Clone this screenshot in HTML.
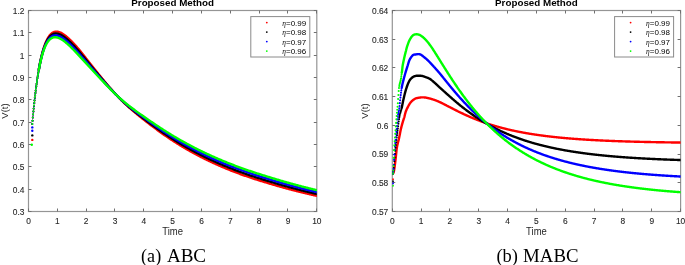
<!DOCTYPE html><html><head><meta charset="utf-8"><style>html,body{margin:0;padding:0;background:#fff;width:685px;height:265px;overflow:hidden}svg{display:block;will-change:transform}</style></head><body><svg width="685" height="265" viewBox="0 0 685 265"><style>text{font-family:"Liberation Sans",sans-serif}.tk{font-size:8.4px;fill:#262626;stroke:#262626;stroke-width:0.1px}.lab{font-size:9.5px;fill:#262626}.ttl{font-size:9.8px;font-weight:bold;fill:#000}.lg{font-size:8px;fill:#000}.cap{font-family:"Liberation Serif",serif;font-size:17.8px;fill:#000}</style><defs><clipPath id="cL"><rect x="28.5" y="10.5" width="288.3" height="201"/></clipPath><clipPath id="cR"><rect x="392.3" y="10.5" width="288.3" height="201"/></clipPath></defs><rect x="28.5" y="10.5" width="288.30" height="201.0" fill="none" stroke="#959595" stroke-width="1.2"/><path d="M28.50 211.5v-3M28.50 10.5v3M57.50 211.5v-3M57.50 10.5v3M86.50 211.5v-3M86.50 10.5v3M114.50 211.5v-3M114.50 10.5v3M143.50 211.5v-3M143.50 10.5v3M172.50 211.5v-3M172.50 10.5v3M201.50 211.5v-3M201.50 10.5v3M230.50 211.5v-3M230.50 10.5v3M259.50 211.5v-3M259.50 10.5v3M287.50 211.5v-3M287.50 10.5v3M316.50 211.5v-3M316.50 10.5v3M28.5 211.50h3M316.80 211.50h-3M28.5 189.50h3M316.80 189.50h-3M28.5 166.50h3M316.80 166.50h-3M28.5 144.50h3M316.80 144.50h-3M28.5 122.50h3M316.80 122.50h-3M28.5 99.50h3M316.80 99.50h-3M28.5 77.50h3M316.80 77.50h-3M28.5 55.50h3M316.80 55.50h-3M28.5 32.50h3M316.80 32.50h-3M28.5 10.50h3M316.80 10.50h-3" stroke="#707070" stroke-width="1" fill="none"/><text transform="translate(28.50,223.5) scale(1,1.07)" text-anchor="middle" class="tk">0</text><text transform="translate(57.33,223.5) scale(1,1.07)" text-anchor="middle" class="tk">1</text><text transform="translate(86.16,223.5) scale(1,1.07)" text-anchor="middle" class="tk">2</text><text transform="translate(114.99,223.5) scale(1,1.07)" text-anchor="middle" class="tk">3</text><text transform="translate(143.82,223.5) scale(1,1.07)" text-anchor="middle" class="tk">4</text><text transform="translate(172.65,223.5) scale(1,1.07)" text-anchor="middle" class="tk">5</text><text transform="translate(201.48,223.5) scale(1,1.07)" text-anchor="middle" class="tk">6</text><text transform="translate(230.31,223.5) scale(1,1.07)" text-anchor="middle" class="tk">7</text><text transform="translate(259.14,223.5) scale(1,1.07)" text-anchor="middle" class="tk">8</text><text transform="translate(287.97,223.5) scale(1,1.07)" text-anchor="middle" class="tk">9</text><text transform="translate(316.80,223.5) scale(1,1.07)" text-anchor="middle" class="tk">10</text><text transform="translate(24.50,214.90) scale(1,1.07)" text-anchor="end" class="tk">0.3</text><text transform="translate(24.50,192.57) scale(1,1.07)" text-anchor="end" class="tk">0.4</text><text transform="translate(24.50,170.23) scale(1,1.07)" text-anchor="end" class="tk">0.5</text><text transform="translate(24.50,147.90) scale(1,1.07)" text-anchor="end" class="tk">0.6</text><text transform="translate(24.50,125.57) scale(1,1.07)" text-anchor="end" class="tk">0.7</text><text transform="translate(24.50,103.23) scale(1,1.07)" text-anchor="end" class="tk">0.8</text><text transform="translate(24.50,80.90) scale(1,1.07)" text-anchor="end" class="tk">0.9</text><text transform="translate(24.50,58.57) scale(1,1.07)" text-anchor="end" class="tk">1</text><text transform="translate(24.50,36.23) scale(1,1.07)" text-anchor="end" class="tk">1.1</text><text transform="translate(24.50,13.90) scale(1,1.07)" text-anchor="end" class="tk">1.2</text><text transform="translate(172.65,235.1) scale(1,1.1)" text-anchor="middle" class="lab">Time</text><text transform="translate(8.30,111) rotate(-90)" text-anchor="middle" class="lab">V(t)</text><text x="172.65" y="5.8" text-anchor="middle" class="ttl">Proposed Method</text><g clip-path="url(#cL)" fill="none" stroke-linecap="round" stroke-linejoin="round"><path d="M38.88 69.18L39.58 65.36 40.27 61.84 40.97 58.58 41.66 55.59 42.36 52.84 43.06 50.31 43.75 48.00 44.45 45.89 45.15 43.97 45.84 42.23 46.54 40.66 47.24 39.25 47.93 37.98 48.63 36.86 49.33 35.87 50.02 35.00 50.72 34.24 51.42 33.60 52.11 33.05 52.81 32.61 53.51 32.25 54.20 31.98 54.90 31.79 55.60 31.67 56.29 31.63 56.99 31.64 57.69 31.72 58.38 31.86 59.08 32.05 59.78 32.30 60.47 32.58 61.17 32.92 61.86 33.29 62.56 33.70 63.26 34.15 63.95 34.63 64.65 35.13 65.35 35.67 66.04 36.23 66.74 36.81 67.44 37.42 68.13 38.04 68.83 38.68 69.53 39.34 70.22 40.01 70.92 40.70 71.62 41.39 72.31 42.11 73.01 42.83 73.71 43.56 74.40 44.31 75.10 45.07 75.80 45.84 76.49 46.62 77.19 47.42 77.89 48.22 78.58 49.04 79.28 49.88 79.97 50.72 80.67 51.57 81.37 52.44 82.06 53.31 82.76 54.19 83.46 55.07 84.15 55.96 84.85 56.85 85.55 57.75 86.24 58.64 86.94 59.54 87.64 60.43 88.33 61.33 89.03 62.22 89.73 63.10 90.42 63.99 91.12 64.87 91.82 65.75 92.51 66.62 93.21 67.50 93.91 68.37 94.60 69.24 95.30 70.10 96.00 70.97 96.69 71.83 97.39 72.69 98.09 73.55 98.78 74.41 99.48 75.26 100.17 76.11 100.87 76.97 101.57 77.81 102.26 78.66 102.96 79.51 103.66 80.35 104.35 81.19 105.05 82.02 105.75 82.85 106.44 83.68 107.14 84.51 107.84 85.33 108.53 86.15 109.23 86.96 109.93 87.77 110.62 88.57 111.32 89.37 112.02 90.16 112.71 90.95 113.41 91.73 114.11 92.50 114.80 93.27 115.50 94.03 116.20 94.78 116.89 95.53 117.59 96.27 118.28 97.00 118.98 97.73 119.68 98.45 120.37 99.16 121.07 99.86 121.77 100.56 122.46 101.25 123.16 101.93 123.86 102.60 124.55 103.27 125.25 103.93 125.95 104.58 126.64 105.23 127.34 105.87 128.04 106.50 128.73 107.13 129.43 107.75 130.13 108.36 130.82 108.97 131.52 109.58 132.22 110.18 132.91 110.77 133.61 111.36 134.31 111.95 135.00 112.53 135.70 113.11 136.40 113.69 137.09 114.26 137.79 114.83 138.48 115.40 139.18 115.96 139.88 116.52 140.57 117.08 141.27 117.64 141.97 118.19 142.66 118.75 143.36 119.30 144.06 119.84 144.75 120.39 145.45 120.94 146.15 121.48 146.84 122.02 147.54 122.56 148.24 123.10 148.93 123.64 149.63 124.17 150.33 124.70 151.02 125.23 151.72 125.76 152.42 126.29 153.11 126.82 153.81 127.34 154.51 127.86 155.20 128.38 155.90 128.89 156.59 129.41 157.29 129.92 157.99 130.43 158.68 130.94 159.38 131.44 160.08 131.94 160.77 132.44 161.47 132.94 162.17 133.44 162.86 133.93 163.56 134.42 164.26 134.91 164.95 135.39 165.65 135.87 166.35 136.35 167.04 136.83 167.74 137.30 168.44 137.77 169.13 138.24 169.83 138.71 170.53 139.17 171.22 139.63 171.92 140.09 172.62 140.54 173.31 141.00 174.01 141.45 174.70 141.89 175.40 142.34 176.10 142.78 176.79 143.22 177.49 143.66 178.19 144.09 178.88 144.52 179.58 144.95 180.28 145.38 180.97 145.80 181.67 146.23 182.37 146.64 183.06 147.06 183.76 147.48 184.46 147.89 185.15 148.30 185.85 148.70 186.55 149.11 187.24 149.51 187.94 149.91 188.64 150.31 189.33 150.70 190.03 151.09 190.73 151.48 191.42 151.87 192.12 152.26 192.82 152.64 193.51 153.02 194.21 153.40 194.90 153.78 195.60 154.15 196.30 154.52 196.99 154.89 197.69 155.26 198.39 155.63 199.08 155.99 199.78 156.35 200.48 156.71 201.17 157.07 201.87 157.42 202.57 157.77 203.26 158.12 203.96 158.47 204.66 158.82 205.35 159.16 206.05 159.51 206.75 159.85 207.44 160.18 208.14 160.52 208.84 160.85 209.53 161.19 210.23 161.52 210.93 161.85 211.62 162.17 212.32 162.50 213.01 162.82 213.71 163.14 214.41 163.46 215.10 163.77 215.80 164.09 216.50 164.40 217.19 164.71 217.89 165.02 218.59 165.33 219.28 165.64 219.98 165.94 220.68 166.24 221.37 166.54 222.07 166.84 222.77 167.14 223.46 167.43 224.16 167.72 224.86 168.02 225.55 168.30 226.25 168.59 226.95 168.88 227.64 169.16 228.34 169.45 229.04 169.73 229.73 170.01 230.43 170.28 231.13 170.56 231.82 170.83 232.52 171.11 233.21 171.38 233.91 171.65 234.61 171.92 235.30 172.18 236.00 172.45 236.70 172.71 237.39 172.97 238.09 173.23 238.79 173.49 239.48 173.75 240.18 174.00 240.88 174.26 241.57 174.51 242.27 174.76 242.97 175.01 243.66 175.26 244.36 175.51 245.06 175.75 245.75 175.99 246.45 176.24 247.15 176.48 247.84 176.72 248.54 176.95 249.24 177.19 249.93 177.43 250.63 177.66 251.32 177.89 252.02 178.12 252.72 178.35 253.41 178.58 254.11 178.81 254.81 179.03 255.50 179.26 256.20 179.48 256.90 179.70 257.59 179.92 258.29 180.14 258.99 180.36 259.68 180.57 260.38 180.79 261.08 181.00 261.77 181.21 262.47 181.42 263.17 181.63 263.86 181.84 264.56 182.05 265.26 182.26 265.95 182.47 266.65 182.68 267.35 182.89 268.04 183.10 268.74 183.31 269.43 183.52 270.13 183.73 270.83 183.94 271.52 184.15 272.22 184.35 272.92 184.56 273.61 184.76 274.31 184.97 275.01 185.17 275.70 185.37 276.40 185.58 277.10 185.78 277.79 185.98 278.49 186.18 279.19 186.37 279.88 186.57 280.58 186.77 281.28 186.96 281.97 187.16 282.67 187.35 283.37 187.54 284.06 187.74 284.76 187.93 285.46 188.12 286.15 188.31 286.85 188.50 287.55 188.68 288.24 188.87 288.94 189.06 289.63 189.24 290.33 189.43 291.03 189.61 291.72 189.79 292.42 189.98 293.12 190.16 293.81 190.34 294.51 190.52 295.21 190.70 295.90 190.87 296.60 191.05 297.30 191.23 297.99 191.40 298.69 191.58 299.39 191.75 300.08 191.92 300.78 192.10 301.48 192.27 302.17 192.44 302.87 192.61 303.57 192.78 304.26 192.95 304.96 193.11 305.66 193.28 306.35 193.45 307.05 193.61 307.74 193.78 308.44 193.94 309.14 194.10 309.83 194.27 310.53 194.43 311.23 194.59 311.92 194.75 312.62 194.91 313.32 195.07 314.01 195.23 314.71 195.38 315.41 195.54 316.10 195.70 316.80 195.85" stroke="#ff0000" stroke-width="2.4"/><path d="M32.25 123.99h0M32.54 120.76h0M32.82 117.61h0M33.11 114.56h0M33.40 111.60h0M33.69 108.71h0M33.98 105.91h0M34.27 103.20h0M34.55 100.56h0M34.84 97.99h0M35.13 95.50h0M35.42 93.09h0M35.71 90.74h0M36.00 88.47h0M36.28 86.26h0M36.57 84.12h0M36.86 82.04h0M37.15 80.03h0M37.44 78.07h0M37.73 76.18h0M38.01 74.35h0M38.30 72.57h0M38.59 70.85h0M38.88 69.18h0" stroke="#ff0000" stroke-width="2.0"/><path d="M38.88 69.29L39.58 65.55 40.27 62.10 40.97 58.93 41.66 56.01 42.36 53.35 43.06 50.91 43.75 48.69 44.45 46.66 45.15 44.83 45.84 43.18 46.54 41.69 47.24 40.36 47.93 39.17 48.63 38.12 49.33 37.20 50.02 36.40 50.72 35.72 51.42 35.14 52.11 34.66 52.81 34.27 53.51 33.97 54.20 33.75 54.90 33.60 55.60 33.53 56.29 33.52 56.99 33.58 57.69 33.69 58.38 33.86 59.08 34.08 59.78 34.35 60.47 34.66 61.17 35.01 61.86 35.40 62.56 35.83 63.26 36.28 63.95 36.77 64.65 37.29 65.35 37.83 66.04 38.39 66.74 38.98 67.44 39.59 68.13 40.21 68.83 40.85 69.53 41.51 70.22 42.17 70.92 42.86 71.62 43.55 72.31 44.26 73.01 44.97 73.71 45.70 74.40 46.44 75.10 47.18 75.80 47.94 76.49 48.70 77.19 49.48 77.89 50.27 78.58 51.06 79.28 51.86 79.97 52.68 80.67 53.50 81.37 54.32 82.06 55.16 82.76 55.99 83.46 56.84 84.15 57.68 84.85 58.53 85.55 59.38 86.24 60.23 86.94 61.08 87.64 61.93 88.33 62.78 89.03 63.62 89.73 64.47 90.42 65.31 91.12 66.15 91.82 66.99 92.51 67.82 93.21 68.66 93.91 69.49 94.60 70.32 95.30 71.15 96.00 71.97 96.69 72.80 97.39 73.62 98.09 74.45 98.78 75.27 99.48 76.08 100.17 76.90 100.87 77.72 101.57 78.53 102.26 79.34 102.96 80.15 103.66 80.96 104.35 81.76 105.05 82.56 105.75 83.36 106.44 84.15 107.14 84.94 107.84 85.73 108.53 86.51 109.23 87.29 109.93 88.07 110.62 88.84 111.32 89.60 112.02 90.36 112.71 91.11 113.41 91.86 114.11 92.61 114.80 93.34 115.50 94.07 116.20 94.79 116.89 95.51 117.59 96.22 118.28 96.92 118.98 97.62 119.68 98.31 120.37 98.99 121.07 99.66 121.77 100.33 122.46 100.99 123.16 101.64 123.86 102.29 124.55 102.93 125.25 103.56 125.95 104.18 126.64 104.80 127.34 105.42 128.04 106.02 128.73 106.62 129.43 107.22 130.13 107.81 130.82 108.39 131.52 108.97 132.22 109.55 132.91 110.12 133.61 110.68 134.31 111.25 135.00 111.81 135.70 112.36 136.40 112.91 137.09 113.46 137.79 114.01 138.48 114.55 139.18 115.10 139.88 115.64 140.57 116.17 141.27 116.71 141.97 117.24 142.66 117.77 143.36 118.30 144.06 118.83 144.75 119.36 145.45 119.89 146.15 120.41 146.84 120.93 147.54 121.45 148.24 121.97 148.93 122.49 149.63 123.01 150.33 123.52 151.02 124.03 151.72 124.54 152.42 125.05 153.11 125.56 153.81 126.07 154.51 126.57 155.20 127.07 155.90 127.57 156.59 128.07 157.29 128.57 157.99 129.06 158.68 129.55 159.38 130.04 160.08 130.53 160.77 131.01 161.47 131.50 162.17 131.98 162.86 132.45 163.56 132.93 164.26 133.40 164.95 133.87 165.65 134.34 166.35 134.81 167.04 135.27 167.74 135.73 168.44 136.19 169.13 136.65 169.83 137.10 170.53 137.55 171.22 138.00 171.92 138.45 172.62 138.89 173.31 139.33 174.01 139.77 174.70 140.21 175.40 140.64 176.10 141.07 176.79 141.50 177.49 141.93 178.19 142.35 178.88 142.77 179.58 143.19 180.28 143.61 180.97 144.02 181.67 144.44 182.37 144.85 183.06 145.25 183.76 145.66 184.46 146.06 185.15 146.46 185.85 146.86 186.55 147.26 187.24 147.65 187.94 148.04 188.64 148.43 189.33 148.82 190.03 149.20 190.73 149.59 191.42 149.97 192.12 150.34 192.82 150.72 193.51 151.10 194.21 151.47 194.90 151.84 195.60 152.20 196.30 152.57 196.99 152.93 197.69 153.30 198.39 153.65 199.08 154.01 199.78 154.37 200.48 154.72 201.17 155.07 201.87 155.42 202.57 155.77 203.26 156.11 203.96 156.46 204.66 156.80 205.35 157.14 206.05 157.48 206.75 157.81 207.44 158.15 208.14 158.48 208.84 158.81 209.53 159.14 210.23 159.46 210.93 159.79 211.62 160.11 212.32 160.43 213.01 160.75 213.71 161.06 214.41 161.38 215.10 161.69 215.80 162.00 216.50 162.31 217.19 162.62 217.89 162.93 218.59 163.23 219.28 163.54 219.98 163.84 220.68 164.14 221.37 164.43 222.07 164.73 222.77 165.03 223.46 165.32 224.16 165.61 224.86 165.90 225.55 166.19 226.25 166.47 226.95 166.76 227.64 167.04 228.34 167.32 229.04 167.60 229.73 167.88 230.43 168.15 231.13 168.43 231.82 168.70 232.52 168.97 233.21 169.24 233.91 169.51 234.61 169.78 235.30 170.05 236.00 170.31 236.70 170.57 237.39 170.83 238.09 171.09 238.79 171.35 239.48 171.61 240.18 171.86 240.88 172.12 241.57 172.37 242.27 172.62 242.97 172.87 243.66 173.12 244.36 173.36 245.06 173.61 245.75 173.85 246.45 174.10 247.15 174.34 247.84 174.58 248.54 174.82 249.24 175.05 249.93 175.29 250.63 175.52 251.32 175.76 252.02 175.99 252.72 176.22 253.41 176.45 254.11 176.67 254.81 176.90 255.50 177.13 256.20 177.35 256.90 177.57 257.59 177.79 258.29 178.01 258.99 178.23 259.68 178.45 260.38 178.67 261.08 178.88 261.77 179.09 262.47 179.31 263.17 179.52 263.86 179.73 264.56 179.94 265.26 180.15 265.95 180.36 266.65 180.57 267.35 180.79 268.04 181.00 268.74 181.21 269.43 181.42 270.13 181.63 270.83 181.84 271.52 182.05 272.22 182.26 272.92 182.47 273.61 182.68 274.31 182.88 275.01 183.09 275.70 183.30 276.40 183.50 277.10 183.70 277.79 183.90 278.49 184.11 279.19 184.31 279.88 184.51 280.58 184.71 281.28 184.90 281.97 185.10 282.67 185.30 283.37 185.49 284.06 185.69 284.76 185.88 285.46 186.08 286.15 186.27 286.85 186.46 287.55 186.65 288.24 186.84 288.94 187.03 289.63 187.22 290.33 187.41 291.03 187.59 291.72 187.78 292.42 187.96 293.12 188.15 293.81 188.33 294.51 188.52 295.21 188.70 295.90 188.88 296.60 189.06 297.30 189.24 297.99 189.42 298.69 189.60 299.39 189.77 300.08 189.95 300.78 190.12 301.48 190.30 302.17 190.47 302.87 190.65 303.57 190.82 304.26 190.99 304.96 191.16 305.66 191.33 306.35 191.50 307.05 191.67 307.74 191.84 308.44 192.01 309.14 192.17 309.83 192.34 310.53 192.51 311.23 192.67 311.92 192.83 312.62 193.00 313.32 193.16 314.01 193.32 314.71 193.48 315.41 193.64 316.10 193.80 316.80 193.96" stroke="#000000" stroke-width="2.4"/><path d="M32.25 124.00h0M32.54 120.74h0M32.82 117.57h0M33.11 114.49h0M33.40 111.51h0M33.69 108.61h0M33.98 105.80h0M34.27 103.08h0M34.55 100.43h0M34.84 97.87h0M35.13 95.38h0M35.42 92.97h0M35.71 90.64h0M36.00 88.37h0M36.28 86.18h0M36.57 84.05h0M36.86 81.99h0M37.15 79.99h0M37.44 78.06h0M37.73 76.19h0M38.01 74.38h0M38.30 72.63h0M38.59 70.93h0M38.88 69.29h0" stroke="#000000" stroke-width="2.0"/><path d="M38.88 69.40L39.58 65.73 40.27 62.36 40.97 59.27 41.66 56.44 42.36 53.86 43.06 51.51 43.75 49.37 44.45 47.44 45.15 45.69 45.84 44.12 46.54 42.72 47.24 41.47 47.93 40.36 48.63 39.39 49.33 38.54 50.02 37.81 50.72 37.20 51.42 36.68 52.11 36.26 52.81 35.93 53.51 35.68 54.20 35.51 54.90 35.42 55.60 35.39 56.29 35.42 56.99 35.52 57.69 35.66 58.38 35.86 59.08 36.11 59.78 36.40 60.47 36.74 61.17 37.11 61.86 37.51 62.56 37.95 63.26 38.42 63.95 38.92 64.65 39.44 65.35 39.99 66.04 40.56 66.74 41.15 67.44 41.75 68.13 42.38 68.83 43.02 69.53 43.67 70.22 44.34 70.92 45.02 71.62 45.71 72.31 46.41 73.01 47.12 73.71 47.83 74.40 48.56 75.10 49.30 75.80 50.04 76.49 50.79 77.19 51.54 77.89 52.31 78.58 53.08 79.28 53.85 79.97 54.63 80.67 55.42 81.37 56.21 82.06 57.00 82.76 57.80 83.46 58.60 84.15 59.40 84.85 60.20 85.55 61.01 86.24 61.81 86.94 62.62 87.64 63.42 88.33 64.23 89.03 65.03 89.73 65.83 90.42 66.63 91.12 67.43 91.82 68.22 92.51 69.02 93.21 69.82 93.91 70.61 94.60 71.40 95.30 72.19 96.00 72.98 96.69 73.77 97.39 74.56 98.09 75.34 98.78 76.12 99.48 76.91 100.17 77.69 100.87 78.47 101.57 79.24 102.26 80.02 102.96 80.79 103.66 81.56 104.35 82.33 105.05 83.10 105.75 83.86 106.44 84.62 107.14 85.38 107.84 86.13 108.53 86.88 109.23 87.63 109.93 88.37 110.62 89.10 111.32 89.84 112.02 90.56 112.71 91.28 113.41 92.00 114.11 92.71 114.80 93.41 115.50 94.11 116.20 94.81 116.89 95.49 117.59 96.17 118.28 96.84 118.98 97.51 119.68 98.17 120.37 98.82 121.07 99.46 121.77 100.10 122.46 100.73 123.16 101.36 123.86 101.97 124.55 102.59 125.25 103.19 125.95 103.79 126.64 104.38 127.34 104.96 128.04 105.54 128.73 106.12 129.43 106.69 130.13 107.25 130.82 107.81 131.52 108.37 132.22 108.92 132.91 109.46 133.61 110.01 134.31 110.54 135.00 111.08 135.70 111.61 136.40 112.14 137.09 112.67 137.79 113.19 138.48 113.71 139.18 114.23 139.88 114.75 140.57 115.27 141.27 115.78 141.97 116.29 142.66 116.80 143.36 117.31 144.06 117.82 144.75 118.33 145.45 118.83 146.15 119.34 146.84 119.84 147.54 120.34 148.24 120.84 148.93 121.34 149.63 121.84 150.33 122.34 151.02 122.83 151.72 123.32 152.42 123.82 153.11 124.31 153.81 124.80 154.51 125.28 155.20 125.77 155.90 126.25 156.59 126.73 157.29 127.21 157.99 127.69 158.68 128.17 159.38 128.64 160.08 129.11 160.77 129.58 161.47 130.05 162.17 130.52 162.86 130.98 163.56 131.44 164.26 131.90 164.95 132.36 165.65 132.81 166.35 133.27 167.04 133.72 167.74 134.16 168.44 134.61 169.13 135.05 169.83 135.49 170.53 135.93 171.22 136.37 171.92 136.80 172.62 137.24 173.31 137.67 174.01 138.09 174.70 138.52 175.40 138.94 176.10 139.36 176.79 139.78 177.49 140.20 178.19 140.61 178.88 141.02 179.58 141.43 180.28 141.84 180.97 142.24 181.67 142.65 182.37 143.05 183.06 143.45 183.76 143.84 184.46 144.24 185.15 144.63 185.85 145.02 186.55 145.40 187.24 145.79 187.94 146.17 188.64 146.56 189.33 146.93 190.03 147.31 190.73 147.69 191.42 148.06 192.12 148.43 192.82 148.80 193.51 149.17 194.21 149.53 194.90 149.90 195.60 150.26 196.30 150.62 196.99 150.97 197.69 151.33 198.39 151.68 199.08 152.03 199.78 152.38 200.48 152.73 201.17 153.08 201.87 153.42 202.57 153.76 203.26 154.10 203.96 154.44 204.66 154.78 205.35 155.11 206.05 155.45 206.75 155.78 207.44 156.11 208.14 156.43 208.84 156.76 209.53 157.08 210.23 157.41 210.93 157.73 211.62 158.04 212.32 158.36 213.01 158.68 213.71 158.99 214.41 159.30 215.10 159.61 215.80 159.92 216.50 160.23 217.19 160.53 217.89 160.84 218.59 161.14 219.28 161.44 219.98 161.74 220.68 162.03 221.37 162.33 222.07 162.62 222.77 162.91 223.46 163.21 224.16 163.49 224.86 163.78 225.55 164.07 226.25 164.35 226.95 164.63 227.64 164.92 228.34 165.20 229.04 165.47 229.73 165.75 230.43 166.02 231.13 166.30 231.82 166.57 232.52 166.84 233.21 167.11 233.91 167.38 234.61 167.64 235.30 167.91 236.00 168.17 236.70 168.43 237.39 168.70 238.09 168.95 238.79 169.21 239.48 169.47 240.18 169.72 240.88 169.98 241.57 170.23 242.27 170.48 242.97 170.73 243.66 170.98 244.36 171.22 245.06 171.47 245.75 171.71 246.45 171.96 247.15 172.20 247.84 172.44 248.54 172.68 249.24 172.91 249.93 173.15 250.63 173.39 251.32 173.62 252.02 173.85 252.72 174.08 253.41 174.31 254.11 174.54 254.81 174.77 255.50 175.00 256.20 175.22 256.90 175.44 257.59 175.67 258.29 175.89 258.99 176.11 259.68 176.33 260.38 176.54 261.08 176.76 261.77 176.98 262.47 177.19 263.17 177.40 263.86 177.62 264.56 177.83 265.26 178.04 265.95 178.25 266.65 178.47 267.35 178.68 268.04 178.90 268.74 179.11 269.43 179.32 270.13 179.54 270.83 179.75 271.52 179.96 272.22 180.17 272.92 180.38 273.61 180.59 274.31 180.80 275.01 181.01 275.70 181.22 276.40 181.42 277.10 181.63 277.79 181.83 278.49 182.04 279.19 182.24 279.88 182.44 280.58 182.65 281.28 182.85 281.97 183.05 282.67 183.25 283.37 183.44 284.06 183.64 284.76 183.84 285.46 184.04 286.15 184.23 286.85 184.43 287.55 184.62 288.24 184.81 288.94 185.00 289.63 185.20 290.33 185.39 291.03 185.58 291.72 185.76 292.42 185.95 293.12 186.14 293.81 186.33 294.51 186.51 295.21 186.70 295.90 186.88 296.60 187.07 297.30 187.25 297.99 187.43 298.69 187.61 299.39 187.79 300.08 187.97 300.78 188.15 301.48 188.33 302.17 188.51 302.87 188.69 303.57 188.86 304.26 189.04 304.96 189.21 305.66 189.39 306.35 189.56 307.05 189.73 307.74 189.90 308.44 190.08 309.14 190.25 309.83 190.42 310.53 190.58 311.23 190.75 311.92 190.92 312.62 191.09 313.32 191.25 314.01 191.42 314.71 191.58 315.41 191.75 316.10 191.91 316.80 192.08" stroke="#0000ff" stroke-width="2.4"/><path d="M32.25 124.01h0M32.54 120.72h0M32.82 117.52h0M33.11 114.42h0M33.40 111.42h0M33.69 108.51h0M33.98 105.69h0M34.27 102.96h0M34.55 100.31h0M34.84 97.75h0M35.13 95.26h0M35.42 92.86h0M35.71 90.53h0M36.00 88.27h0M36.28 86.09h0M36.57 83.98h0M36.86 81.94h0M37.15 79.96h0M37.44 78.05h0M37.73 76.20h0M38.01 74.41h0M38.30 72.69h0M38.59 71.02h0M38.88 69.40h0" stroke="#0000ff" stroke-width="2.0"/><path d="M38.88 69.52L39.58 65.92 40.27 62.62 40.97 59.61 41.66 56.87 42.36 54.37 43.06 52.11 43.75 50.06 44.45 48.21 45.15 46.55 45.84 45.07 46.54 43.75 47.24 42.58 47.93 41.55 48.63 40.65 49.33 39.88 50.02 39.22 50.72 38.67 51.42 38.22 52.11 37.86 52.81 37.59 53.51 37.40 54.20 37.28 54.90 37.23 55.60 37.24 56.29 37.32 56.99 37.45 57.69 37.63 58.38 37.86 59.08 38.14 59.78 38.46 60.47 38.81 61.17 39.20 61.86 39.62 62.56 40.08 63.26 40.56 63.95 41.06 64.65 41.60 65.35 42.15 66.04 42.72 66.74 43.31 67.44 43.92 68.13 44.55 68.83 45.19 69.53 45.84 70.22 46.50 70.92 47.18 71.62 47.86 72.31 48.56 73.01 49.26 73.71 49.97 74.40 50.69 75.10 51.41 75.80 52.14 76.49 52.87 77.19 53.61 77.89 54.35 78.58 55.09 79.28 55.84 79.97 56.59 80.67 57.34 81.37 58.10 82.06 58.85 82.76 59.61 83.46 60.36 84.15 61.12 84.85 61.88 85.55 62.64 86.24 63.40 86.94 64.16 87.64 64.92 88.33 65.68 89.03 66.43 89.73 67.19 90.42 67.95 91.12 68.71 91.82 69.46 92.51 70.22 93.21 70.97 93.91 71.73 94.60 72.48 95.30 73.24 96.00 73.99 96.69 74.74 97.39 75.49 98.09 76.24 98.78 76.98 99.48 77.73 100.17 78.47 100.87 79.22 101.57 79.96 102.26 80.70 102.96 81.44 103.66 82.17 104.35 82.91 105.05 83.64 105.75 84.37 106.44 85.09 107.14 85.81 107.84 86.53 108.53 87.25 109.23 87.96 109.93 88.67 110.62 89.37 111.32 90.07 112.02 90.76 112.71 91.45 113.41 92.14 114.11 92.82 114.80 93.49 115.50 94.16 116.20 94.82 116.89 95.47 117.59 96.12 118.28 96.76 118.98 97.40 119.68 98.03 120.37 98.65 121.07 99.26 121.77 99.87 122.46 100.48 123.16 101.07 123.86 101.66 124.55 102.24 125.25 102.82 125.95 103.39 126.64 103.96 127.34 104.51 128.04 105.07 128.73 105.62 129.43 106.16 130.13 106.70 130.82 107.23 131.52 107.76 132.22 108.29 132.91 108.81 133.61 109.33 134.31 109.84 135.00 110.35 135.70 110.86 136.40 111.37 137.09 111.87 137.79 112.37 138.48 112.87 139.18 113.37 139.88 113.87 140.57 114.36 141.27 114.85 141.97 115.34 142.66 115.83 143.36 116.32 144.06 116.81 144.75 117.30 145.45 117.78 146.15 118.27 146.84 118.75 147.54 119.23 148.24 119.71 148.93 120.19 149.63 120.67 150.33 121.15 151.02 121.63 151.72 122.10 152.42 122.58 153.11 123.05 153.81 123.52 154.51 123.99 155.20 124.46 155.90 124.93 156.59 125.40 157.29 125.86 157.99 126.32 158.68 126.78 159.38 127.24 160.08 127.70 160.77 128.15 161.47 128.61 162.17 129.06 162.86 129.51 163.56 129.95 164.26 130.40 164.95 130.84 165.65 131.28 166.35 131.72 167.04 132.16 167.74 132.60 168.44 133.03 169.13 133.46 169.83 133.89 170.53 134.32 171.22 134.74 171.92 135.16 172.62 135.58 173.31 136.00 174.01 136.42 174.70 136.83 175.40 137.24 176.10 137.65 176.79 138.06 177.49 138.47 178.19 138.87 178.88 139.27 179.58 139.67 180.28 140.07 180.97 140.46 181.67 140.86 182.37 141.25 183.06 141.64 183.76 142.02 184.46 142.41 185.15 142.79 185.85 143.17 186.55 143.55 187.24 143.93 187.94 144.31 188.64 144.68 189.33 145.05 190.03 145.42 190.73 145.79 191.42 146.15 192.12 146.52 192.82 146.88 193.51 147.24 194.21 147.60 194.90 147.96 195.60 148.31 196.30 148.66 196.99 149.01 197.69 149.36 198.39 149.71 199.08 150.06 199.78 150.40 200.48 150.74 201.17 151.08 201.87 151.42 202.57 151.76 203.26 152.09 203.96 152.43 204.66 152.76 205.35 153.09 206.05 153.42 206.75 153.74 207.44 154.07 208.14 154.39 208.84 154.71 209.53 155.03 210.23 155.35 210.93 155.67 211.62 155.98 212.32 156.29 213.01 156.61 213.71 156.92 214.41 157.22 215.10 157.53 215.80 157.84 216.50 158.14 217.19 158.44 217.89 158.74 218.59 159.04 219.28 159.34 219.98 159.64 220.68 159.93 221.37 160.22 222.07 160.51 222.77 160.80 223.46 161.09 224.16 161.38 224.86 161.66 225.55 161.95 226.25 162.23 226.95 162.51 227.64 162.79 228.34 163.07 229.04 163.35 229.73 163.62 230.43 163.90 231.13 164.17 231.82 164.44 232.52 164.71 233.21 164.98 233.91 165.24 234.61 165.51 235.30 165.77 236.00 166.04 236.70 166.30 237.39 166.56 238.09 166.82 238.79 167.07 239.48 167.33 240.18 167.58 240.88 167.84 241.57 168.09 242.27 168.34 242.97 168.59 243.66 168.84 244.36 169.08 245.06 169.33 245.75 169.57 246.45 169.82 247.15 170.06 247.84 170.30 248.54 170.54 249.24 170.78 249.93 171.01 250.63 171.25 251.32 171.48 252.02 171.72 252.72 171.95 253.41 172.18 254.11 172.41 254.81 172.64 255.50 172.87 256.20 173.09 256.90 173.32 257.59 173.54 258.29 173.76 258.99 173.98 259.68 174.20 260.38 174.42 261.08 174.64 261.77 174.86 262.47 175.07 263.17 175.29 263.86 175.50 264.56 175.71 265.26 175.93 265.95 176.14 266.65 176.36 267.35 176.58 268.04 176.79 268.74 177.01 269.43 177.23 270.13 177.44 270.83 177.66 271.52 177.87 272.22 178.08 272.92 178.30 273.61 178.51 274.31 178.72 275.01 178.93 275.70 179.14 276.40 179.35 277.10 179.55 277.79 179.76 278.49 179.97 279.19 180.17 279.88 180.38 280.58 180.58 281.28 180.79 281.97 180.99 282.67 181.19 283.37 181.39 284.06 181.59 284.76 181.79 285.46 181.99 286.15 182.19 286.85 182.39 287.55 182.59 288.24 182.78 288.94 182.98 289.63 183.17 290.33 183.37 291.03 183.56 291.72 183.75 292.42 183.94 293.12 184.13 293.81 184.32 294.51 184.51 295.21 184.70 295.90 184.89 296.60 185.07 297.30 185.26 297.99 185.45 298.69 185.63 299.39 185.81 300.08 186.00 300.78 186.18 301.48 186.36 302.17 186.54 302.87 186.72 303.57 186.90 304.26 187.08 304.96 187.26 305.66 187.44 306.35 187.62 307.05 187.79 307.74 187.97 308.44 188.14 309.14 188.32 309.83 188.49 310.53 188.66 311.23 188.83 311.92 189.01 312.62 189.18 313.32 189.35 314.01 189.52 314.71 189.69 315.41 189.85 316.10 190.02 316.80 190.19" stroke="#00ff00" stroke-width="2.4"/><path d="M32.25 124.02h0M32.54 120.69h0M32.82 117.47h0M33.11 114.35h0M33.40 111.33h0M33.69 108.41h0M33.98 105.58h0M34.27 102.84h0M34.55 100.19h0M34.84 97.62h0M35.13 95.14h0M35.42 92.74h0M35.71 90.42h0M36.00 88.18h0M36.28 86.01h0M36.57 83.91h0M36.86 81.89h0M37.15 79.93h0M37.44 78.04h0M37.73 76.21h0M38.01 74.45h0M38.30 72.75h0M38.59 71.10h0M38.88 69.52h0" stroke="#00ff00" stroke-width="2.0"/><path d="M32.3 139.9h0" stroke="#ff0000" stroke-width="2.4"/><path d="M32.3 135.4h0" stroke="#000000" stroke-width="2.4"/><path d="M32.3 130.7h0" stroke="#0000ff" stroke-width="2.4"/><path d="M32.3 127.4h0" stroke="#0000ff" stroke-width="2.4"/><path d="M31.8 144.7h0" stroke="#00ff00" stroke-width="2.4"/></g><rect x="250.8" y="16.6" width="59" height="40.4" fill="#fff" stroke="#8a8a8a" stroke-width="1"/><path d="M266.80 22.60h0" stroke="#ff0000" stroke-width="1.8" stroke-linecap="round"/><text x="281.60" y="25.60" class="lg"><tspan dx="0.6" font-family="Liberation Serif" font-style="italic" font-size="7.4px">η</tspan><tspan dx="0.1">=0.99</tspan></text><path d="M266.80 32.10h0" stroke="#000000" stroke-width="1.8" stroke-linecap="round"/><text x="281.60" y="35.10" class="lg"><tspan dx="0.6" font-family="Liberation Serif" font-style="italic" font-size="7.4px">η</tspan><tspan dx="0.1">=0.98</tspan></text><path d="M266.80 41.60h0" stroke="#0000ff" stroke-width="1.8" stroke-linecap="round"/><text x="281.60" y="44.60" class="lg"><tspan dx="0.6" font-family="Liberation Serif" font-style="italic" font-size="7.4px">η</tspan><tspan dx="0.1">=0.97</tspan></text><path d="M266.80 51.10h0" stroke="#00ff00" stroke-width="1.8" stroke-linecap="round"/><text x="281.60" y="54.10" class="lg"><tspan dx="0.6" font-family="Liberation Serif" font-style="italic" font-size="7.4px">η</tspan><tspan dx="0.1">=0.96</tspan></text><rect x="392.3" y="10.5" width="288.30" height="201.0" fill="none" stroke="#959595" stroke-width="1.2"/><path d="M392.50 211.5v-3M392.50 10.5v3M421.50 211.5v-3M421.50 10.5v3M449.50 211.5v-3M449.50 10.5v3M478.50 211.5v-3M478.50 10.5v3M507.50 211.5v-3M507.50 10.5v3M536.50 211.5v-3M536.50 10.5v3M565.50 211.5v-3M565.50 10.5v3M594.50 211.5v-3M594.50 10.5v3M622.50 211.5v-3M622.50 10.5v3M651.50 211.5v-3M651.50 10.5v3M680.50 211.5v-3M680.50 10.5v3M392.3 211.50h3M680.60 211.50h-3M392.3 182.50h3M680.60 182.50h-3M392.3 154.50h3M680.60 154.50h-3M392.3 125.50h3M680.60 125.50h-3M392.3 96.50h3M680.60 96.50h-3M392.3 67.50h3M680.60 67.50h-3M392.3 39.50h3M680.60 39.50h-3M392.3 10.50h3M680.60 10.50h-3" stroke="#707070" stroke-width="1" fill="none"/><text transform="translate(392.30,223.5) scale(1,1.07)" text-anchor="middle" class="tk">0</text><text transform="translate(421.13,223.5) scale(1,1.07)" text-anchor="middle" class="tk">1</text><text transform="translate(449.96,223.5) scale(1,1.07)" text-anchor="middle" class="tk">2</text><text transform="translate(478.79,223.5) scale(1,1.07)" text-anchor="middle" class="tk">3</text><text transform="translate(507.62,223.5) scale(1,1.07)" text-anchor="middle" class="tk">4</text><text transform="translate(536.45,223.5) scale(1,1.07)" text-anchor="middle" class="tk">5</text><text transform="translate(565.28,223.5) scale(1,1.07)" text-anchor="middle" class="tk">6</text><text transform="translate(594.11,223.5) scale(1,1.07)" text-anchor="middle" class="tk">7</text><text transform="translate(622.94,223.5) scale(1,1.07)" text-anchor="middle" class="tk">8</text><text transform="translate(651.77,223.5) scale(1,1.07)" text-anchor="middle" class="tk">9</text><text transform="translate(680.60,223.5) scale(1,1.07)" text-anchor="middle" class="tk">10</text><text transform="translate(388.30,214.90) scale(1,1.07)" text-anchor="end" class="tk">0.57</text><text transform="translate(388.30,186.19) scale(1,1.07)" text-anchor="end" class="tk">0.58</text><text transform="translate(388.30,157.47) scale(1,1.07)" text-anchor="end" class="tk">0.59</text><text transform="translate(388.30,128.76) scale(1,1.07)" text-anchor="end" class="tk">0.6</text><text transform="translate(388.30,100.04) scale(1,1.07)" text-anchor="end" class="tk">0.61</text><text transform="translate(388.30,71.33) scale(1,1.07)" text-anchor="end" class="tk">0.62</text><text transform="translate(388.30,42.61) scale(1,1.07)" text-anchor="end" class="tk">0.63</text><text transform="translate(388.30,13.90) scale(1,1.07)" text-anchor="end" class="tk">0.64</text><text transform="translate(536.45,235.1) scale(1,1.1)" text-anchor="middle" class="lab">Time</text><text transform="translate(367.70,111) rotate(-90)" text-anchor="middle" class="lab">V(t)</text><text x="536.45" y="5.8" text-anchor="middle" class="ttl">Proposed Method</text><g clip-path="url(#cR)" fill="none" stroke-linecap="round" stroke-linejoin="round"><path d="M392.65 173.88L393.01 173.60 393.37 172.99 393.73 171.95 394.09 170.37 394.45 168.17 394.81 165.43 395.17 162.51 395.53 159.52 395.89 156.41 396.25 152.76 396.61 149.37 396.97 147.06 397.33 145.26 397.69 143.70 398.05 142.30 398.41 140.92 398.77 139.48 399.13 137.85 399.49 136.06 399.85 134.21 400.21 132.35 400.57 130.56 400.93 128.87 401.30 127.37 401.66 125.99 402.02 124.66 402.38 123.38 402.74 122.15 403.10 120.96 403.46 119.81 403.82 118.70 404.18 117.62 404.54 116.32 404.90 114.84 405.26 113.34 405.62 112.00 405.98 111.00 406.34 110.16 406.70 109.36 407.06 108.60 407.42 107.86 407.78 107.15 408.14 106.46 408.50 105.79 408.86 105.14 409.22 104.51 409.58 103.92 409.94 103.36 410.31 102.84 410.67 102.38 411.03 101.96 411.39 101.58 411.75 101.22 412.11 100.88 412.47 100.55 412.83 100.23 413.19 99.94 413.55 99.66 413.91 99.41 414.27 99.17 414.63 98.95 414.99 98.75 415.35 98.57 415.71 98.42 416.07 98.29 416.43 98.18 416.79 98.09 417.15 98.02 417.51 97.95 417.87 97.89 418.23 97.83 418.59 97.77 418.95 97.71 419.32 97.64 419.68 97.57 420.04 97.52 420.40 97.48 420.76 97.44 421.12 97.41 421.48 97.39 421.84 97.37 422.20 97.37 422.56 97.36 422.92 97.37 423.28 97.38 423.64 97.39 424.00 97.41 424.36 97.44 424.72 97.47 425.08 97.51 425.44 97.56 425.80 97.61 426.16 97.67 426.52 97.74 426.88 97.81 427.24 97.88 427.60 97.96 427.96 98.04 428.32 98.13 428.69 98.22 429.05 98.31 429.41 98.41 429.77 98.50 430.13 98.60 430.49 98.70 430.85 98.81 431.21 98.91 431.57 99.02 431.93 99.13 432.29 99.24 432.65 99.35 433.01 99.47 433.37 99.58 433.73 99.70 434.09 99.83 434.45 99.95 434.81 100.08 435.17 100.21 435.53 100.34 435.89 100.47 436.25 100.61 436.61 100.75 436.97 100.89 437.33 101.03 437.70 101.18 438.06 101.33 438.42 101.48 438.78 101.64 439.14 101.79 439.50 101.96 439.86 102.12 440.22 102.29 440.58 102.46 440.94 102.63 441.30 102.81 441.66 102.99 442.02 103.17 442.38 103.35 442.74 103.53 443.10 103.72 443.46 103.90 443.82 104.08 444.18 104.27 444.54 104.45 444.90 104.64 445.26 104.82 445.62 105.01 445.98 105.19 446.34 105.38 446.70 105.57 447.07 105.75 447.43 105.94 447.79 106.13 448.15 106.31 448.51 106.50 448.87 106.69 449.23 106.87 449.59 107.06 449.95 107.25 450.31 107.43 450.67 107.62 451.03 107.80 451.39 107.99 451.75 108.18 452.11 108.36 452.47 108.55 452.83 108.73 453.19 108.91 453.55 109.10 453.91 109.28 454.27 109.47 454.63 109.65 454.99 109.83 455.35 110.01 455.71 110.19 456.08 110.38 456.44 110.56 456.80 110.74 457.16 110.92 457.52 111.10 457.88 111.27 458.24 111.45 458.60 111.63 458.96 111.81 459.32 111.98 459.68 112.16 460.04 112.33 460.40 112.51 460.76 112.68 461.12 112.86 461.48 113.03 461.84 113.20 462.20 113.37 462.56 113.54 462.92 113.71 463.28 113.88 463.64 114.05 464.00 114.22 464.36 114.39 464.72 114.55 465.08 114.72 465.45 114.88 465.81 115.05 466.17 115.21 466.53 115.37 466.89 115.54 467.25 115.70 467.61 115.86 467.97 116.02 468.33 116.18 468.69 116.34 469.05 116.50 469.41 116.65 469.77 116.81 470.13 116.96 470.49 117.12 470.85 117.27 471.21 117.43 471.57 117.58 471.93 117.73 472.29 117.88 472.65 118.03 473.01 118.18 473.37 118.33 473.73 118.48 474.09 118.63 474.46 118.78 474.82 118.92 475.18 119.07 475.54 119.21 475.90 119.35 476.26 119.50 476.62 119.64 476.98 119.78 477.34 119.92 477.70 120.06 478.06 120.20 478.42 120.34 478.78 120.48 479.14 120.61 479.50 120.75 479.86 120.89 480.22 121.02 480.58 121.16 480.94 121.29 481.30 121.42 481.66 121.55 482.02 121.68 482.38 121.82 482.74 121.94 483.10 122.07 483.47 122.20 483.83 122.33 484.19 122.46 484.55 122.58 484.91 122.71 485.27 122.83 485.63 122.96 485.99 123.08 486.35 123.20 486.71 123.33 487.07 123.45 487.43 123.57 487.79 123.69 488.15 123.81 488.51 123.92 488.87 124.04 489.23 124.16 489.59 124.28 489.95 124.39 490.31 124.51 490.67 124.62 491.03 124.74 491.39 124.85 491.75 124.96 492.11 125.07 492.47 125.18 492.84 125.29 493.20 125.40 493.56 125.51 493.92 125.62 494.28 125.73 494.64 125.84 495.00 125.94 495.36 126.05 495.72 126.16 496.08 126.26 496.44 126.36 496.80 126.47 497.16 126.57 497.52 126.67 497.88 126.78 498.24 126.88 498.60 126.98 498.96 127.08 499.32 127.18 499.68 127.28 500.04 127.37 500.40 127.47 500.76 127.57 501.12 127.66 501.48 127.76 501.85 127.86 502.21 127.95 502.57 128.04 502.93 128.14 503.29 128.23 503.65 128.32 504.01 128.42 504.37 128.51 504.73 128.60 505.09 128.69 505.45 128.78 505.81 128.87 506.17 128.96 506.53 129.04 506.89 129.13 507.25 129.22 507.61 129.31 507.97 129.39 508.33 129.48 508.69 129.56 509.05 129.65 509.41 129.73 509.77 129.81 510.13 129.90 510.49 129.98 510.85 130.06 511.22 130.14 511.58 130.22 511.94 130.30 512.30 130.38 512.66 130.46 513.02 130.54 513.38 130.62 513.74 130.70 514.10 130.78 514.46 130.85 514.82 130.93 515.18 131.01 515.54 131.08 515.90 131.16 516.26 131.23 516.62 131.31 516.98 131.38 517.34 131.45 517.70 131.53 518.06 131.60 518.42 131.67 518.78 131.74 519.14 131.81 519.50 131.88 519.86 131.95 520.23 132.02 520.59 132.09 520.95 132.16 521.31 132.23 521.67 132.30 522.03 132.37 522.39 132.43 522.75 132.50 523.11 132.57 523.47 132.63 523.83 132.70 524.19 132.76 524.55 132.83 524.91 132.89 525.27 132.96 525.63 133.02 525.99 133.09 526.35 133.15 526.71 133.21 527.07 133.27 527.43 133.33 527.79 133.40 528.15 133.46 528.51 133.52 528.87 133.58 529.23 133.64 529.60 133.70 529.96 133.76 530.32 133.82 530.68 133.87 531.04 133.93 531.40 133.99 531.76 134.05 532.12 134.10 532.48 134.16 532.84 134.22 533.20 134.27 533.56 134.33 533.92 134.38 534.28 134.44 534.64 134.49 535.00 134.55 535.36 134.60 535.72 134.66 536.08 134.71 536.44 134.76 536.80 134.81 537.16 134.87 537.52 134.92 537.88 134.97 538.24 135.02 538.61 135.07 538.97 135.12 539.33 135.17 539.69 135.22 540.05 135.27 540.41 135.32 540.77 135.37 541.13 135.42 541.49 135.47 541.85 135.52 542.21 135.56 542.57 135.61 542.93 135.66 543.29 135.71 543.65 135.75 544.01 135.80 544.37 135.85 544.73 135.89 545.09 135.94 545.45 135.98 545.81 136.03 546.17 136.07 546.53 136.12 546.89 136.16 547.25 136.21 547.61 136.25 547.98 136.29 548.34 136.34 548.70 136.38 549.06 136.42 549.42 136.46 549.78 136.51 550.14 136.55 550.50 136.59 550.86 136.63 551.22 136.67 551.58 136.71 551.94 136.75 552.30 136.79 552.66 136.83 553.02 136.87 553.38 136.91 553.74 136.95 554.10 136.99 554.46 137.03 554.82 137.07 555.18 137.11 555.54 137.14 555.90 137.18 556.26 137.22 556.62 137.26 556.99 137.29 557.35 137.33 557.71 137.37 558.07 137.40 558.43 137.44 558.79 137.48 559.15 137.51 559.51 137.55 559.87 137.58 560.23 137.62 560.59 137.65 560.95 137.69 561.31 137.72 561.67 137.76 562.03 137.79 562.39 137.83 562.75 137.86 563.11 137.89 563.47 137.93 563.83 137.96 564.19 137.99 564.55 138.02 564.91 138.06 565.27 138.09 565.63 138.12 566.00 138.15 566.36 138.18 566.72 138.22 567.08 138.25 567.44 138.28 567.80 138.31 568.16 138.34 568.52 138.37 568.88 138.40 569.24 138.43 569.60 138.46 569.96 138.49 570.32 138.52 570.68 138.55 571.04 138.58 571.40 138.61 571.76 138.64 572.12 138.66 572.48 138.69 572.84 138.72 573.20 138.75 573.56 138.78 573.92 138.81 574.28 138.83 574.64 138.86 575.00 138.89 575.37 138.91 575.73 138.94 576.09 138.97 576.45 138.99 576.81 139.02 577.17 139.05 577.53 139.07 577.89 139.10 578.25 139.13 578.61 139.15 578.97 139.18 579.33 139.20 579.69 139.23 580.05 139.25 580.41 139.28 580.77 139.30 581.13 139.33 581.49 139.35 581.85 139.37 582.21 139.40 582.57 139.42 582.93 139.45 583.29 139.47 583.65 139.49 584.01 139.52 584.38 139.54 584.74 139.56 585.10 139.59 585.46 139.61 585.82 139.63 586.18 139.65 586.54 139.68 586.90 139.70 587.26 139.72 587.62 139.74 587.98 139.76 588.34 139.79 588.70 139.81 589.06 139.83 589.42 139.85 589.78 139.87 590.14 139.89 590.50 139.91 590.86 139.93 591.22 139.95 591.58 139.97 591.94 139.99 592.30 140.01 592.66 140.03 593.02 140.05 593.38 140.07 593.75 140.09 594.11 140.11 594.47 140.13 594.83 140.15 595.19 140.17 595.55 140.19 595.91 140.21 596.27 140.23 596.63 140.25 596.99 140.27 597.35 140.28 597.71 140.30 598.07 140.32 598.43 140.34 598.79 140.36 599.15 140.38 599.51 140.39 599.87 140.41 600.23 140.43 600.59 140.45 600.95 140.46 601.31 140.48 601.67 140.50 602.03 140.52 602.39 140.53 602.76 140.55 603.12 140.57 603.48 140.58 603.84 140.60 604.20 140.62 604.56 140.63 604.92 140.65 605.28 140.66 605.64 140.68 606.00 140.70 606.36 140.71 606.72 140.73 607.08 140.74 607.44 140.76 607.80 140.78 608.16 140.79 608.52 140.81 608.88 140.82 609.24 140.84 609.60 140.85 609.96 140.87 610.32 140.88 610.68 140.90 611.04 140.91 611.40 140.92 611.76 140.94 612.13 140.95 612.49 140.97 612.85 140.98 613.21 141.00 613.57 141.01 613.93 141.02 614.29 141.04 614.65 141.05 615.01 141.07 615.37 141.08 615.73 141.09 616.09 141.11 616.45 141.12 616.81 141.13 617.17 141.15 617.53 141.16 617.89 141.17 618.25 141.18 618.61 141.20 618.97 141.21 619.33 141.22 619.69 141.24 620.05 141.25 620.41 141.26 620.77 141.27 621.14 141.28 621.50 141.30 621.86 141.31 622.22 141.32 622.58 141.33 622.94 141.35 623.30 141.36 623.66 141.37 624.02 141.38 624.38 141.39 624.74 141.40 625.10 141.42 625.46 141.43 625.82 141.44 626.18 141.45 626.54 141.46 626.90 141.47 627.26 141.48 627.62 141.49 627.98 141.50 628.34 141.52 628.70 141.53 629.06 141.54 629.42 141.55 629.78 141.56 630.14 141.57 630.51 141.58 630.87 141.59 631.23 141.60 631.59 141.61 631.95 141.62 632.31 141.63 632.67 141.64 633.03 141.65 633.39 141.66 633.75 141.67 634.11 141.68 634.47 141.69 634.83 141.70 635.19 141.71 635.55 141.72 635.91 141.73 636.27 141.74 636.63 141.75 636.99 141.76 637.35 141.77 637.71 141.78 638.07 141.78 638.43 141.79 638.79 141.80 639.15 141.81 639.52 141.82 639.88 141.83 640.24 141.84 640.60 141.85 640.96 141.86 641.32 141.86 641.68 141.87 642.04 141.88 642.40 141.89 642.76 141.90 643.12 141.91 643.48 141.92 643.84 141.92 644.20 141.93 644.56 141.94 644.92 141.95 645.28 141.96 645.64 141.96 646.00 141.97 646.36 141.98 646.72 141.99 647.08 142.00 647.44 142.00 647.80 142.01 648.16 142.02 648.53 142.03 648.89 142.03 649.25 142.04 649.61 142.05 649.97 142.06 650.33 142.06 650.69 142.07 651.05 142.08 651.41 142.09 651.77 142.09 652.13 142.10 652.49 142.11 652.85 142.12 653.21 142.12 653.57 142.13 653.93 142.14 654.29 142.14 654.65 142.15 655.01 142.16 655.37 142.16 655.73 142.17 656.09 142.18 656.45 142.18 656.81 142.19 657.17 142.20 657.53 142.20 657.90 142.21 658.26 142.22 658.62 142.22 658.98 142.23 659.34 142.24 659.70 142.24 660.06 142.25 660.42 142.26 660.78 142.26 661.14 142.27 661.50 142.27 661.86 142.28 662.22 142.29 662.58 142.29 662.94 142.30 663.30 142.30 663.66 142.31 664.02 142.32 664.38 142.32 664.74 142.33 665.10 142.33 665.46 142.34 665.82 142.34 666.18 142.35 666.54 142.36 666.91 142.36 667.27 142.37 667.63 142.37 667.99 142.38 668.35 142.38 668.71 142.39 669.07 142.39 669.43 142.40 669.79 142.40 670.15 142.41 670.51 142.42 670.87 142.42 671.23 142.43 671.59 142.43 671.95 142.44 672.31 142.44 672.67 142.45 673.03 142.45 673.39 142.46 673.75 142.46 674.11 142.47 674.47 142.47 674.83 142.48 675.19 142.48 675.55 142.49 675.91 142.49 676.28 142.49 676.64 142.50 677.00 142.50 677.36 142.51 677.72 142.51 678.08 142.52 678.44 142.52 678.80 142.53 679.16 142.53 679.52 142.54 679.88 142.54 680.24 142.55 680.60 142.55" stroke="#ff0000" stroke-width="2.4"/><path d="M401.81 107.58L402.16 105.86 402.51 104.10 402.86 102.33 403.21 100.60 403.56 98.94 403.91 97.40 404.26 95.93 404.61 94.51 404.95 93.14 405.30 91.83 405.65 90.59 406.00 89.41 406.35 88.29 406.70 87.25 407.05 86.24 407.40 85.27 407.75 84.35 408.09 83.49 408.44 82.68 408.79 81.93 409.14 81.24 409.49 80.63 409.84 80.07 410.19 79.58 410.54 79.14 410.89 78.75 411.23 78.39 411.58 78.07 411.93 77.77 412.28 77.50 412.63 77.24 412.98 77.00 413.33 76.79 413.68 76.61 414.03 76.45 414.37 76.31 414.72 76.19 415.07 76.08 415.42 75.99 415.77 75.90 416.12 75.83 416.47 75.77 416.82 75.73 417.17 75.70 417.52 75.69 417.86 75.68 418.21 75.68 418.56 75.68 418.91 75.68 419.26 75.68 419.61 75.68 419.96 75.70 420.31 75.72 420.66 75.75 421.00 75.79 421.35 75.84 421.70 75.90 422.05 75.96 422.40 76.04 422.75 76.12 423.10 76.21 423.45 76.30 423.80 76.41 424.14 76.52 424.49 76.64 424.84 76.77 425.19 76.91 425.54 77.04 425.89 77.17 426.24 77.29 426.59 77.42 426.94 77.55 427.28 77.69 427.63 77.82 427.98 77.97 428.33 78.12 428.68 78.29 429.03 78.46 429.38 78.65 429.73 78.85 430.08 79.07 430.43 79.30 430.77 79.55 431.12 79.81 431.47 80.08 431.82 80.35 432.17 80.63 432.52 80.92 432.87 81.21 433.22 81.50 433.57 81.80 433.91 82.11 434.26 82.42 434.61 82.73 434.96 83.04 435.31 83.36 435.66 83.68 436.01 84.00 436.36 84.32 436.71 84.65 437.05 84.97 437.40 85.30 437.75 85.63 438.10 85.96 438.45 86.28 438.80 86.61 439.15 86.93 439.50 87.26 439.85 87.58 440.19 87.90 440.54 88.22 440.89 88.54 441.24 88.85 441.59 89.16 441.94 89.47 442.29 89.78 442.64 90.10 442.99 90.41 443.34 90.72 443.68 91.04 444.03 91.35 444.38 91.66 444.73 91.98 445.08 92.29 445.43 92.60 445.78 92.92 446.13 93.23 446.48 93.54 446.82 93.85 447.17 94.17 447.52 94.48 447.87 94.79 448.22 95.10 448.57 95.41 448.92 95.72 449.27 96.03 449.62 96.34 449.96 96.65 450.31 96.96 450.66 97.26 451.01 97.57 451.36 97.88 451.71 98.18 452.06 98.49 452.41 98.79 452.76 99.10 453.10 99.40 453.45 99.70 453.80 100.00 454.15 100.30 454.50 100.60 454.85 100.90 455.20 101.20 455.55 101.49 455.90 101.79 456.25 102.08 456.59 102.38 456.94 102.67 457.29 102.96 457.64 103.25 457.99 103.54 458.34 103.83 458.69 104.12 459.04 104.41 459.39 104.69 459.73 104.98 460.08 105.26 460.43 105.55 460.78 105.83 461.13 106.11 461.48 106.39 461.83 106.67 462.18 106.95 462.53 107.22 462.87 107.50 463.22 107.77 463.57 108.05 463.92 108.32 464.27 108.59 464.62 108.86 464.97 109.13 465.32 109.40 465.67 109.66 466.01 109.93 466.36 110.20 466.71 110.46 467.06 110.72 467.41 110.98 467.76 111.24 468.11 111.50 468.46 111.76 468.81 112.02 469.16 112.27 469.50 112.53 469.85 112.78 470.20 113.03 470.55 113.28 470.90 113.53 471.25 113.78 471.60 114.03 471.95 114.28 472.30 114.52 472.64 114.77 472.99 115.01 473.34 115.25 473.69 115.49 474.04 115.73 474.39 115.97 474.74 116.21 475.09 116.44 475.44 116.68 475.78 116.91 476.13 117.15 476.48 117.38 476.83 117.61 477.18 117.84 477.53 118.07 477.88 118.30 478.23 118.52 478.58 118.75 478.92 118.97 479.27 119.20 479.62 119.42 479.97 119.64 480.32 119.86 480.67 120.08 481.02 120.30 481.37 120.51 481.72 120.73 482.07 120.94 482.41 121.16 482.76 121.37 483.11 121.58 483.46 121.79 483.81 122.00 484.16 122.21 484.51 122.42 484.86 122.62 485.21 122.83 485.55 123.03 485.90 123.24 486.25 123.44 486.60 123.64 486.95 123.84 487.30 124.04 487.65 124.24 488.00 124.44 488.35 124.63 488.69 124.83 489.04 125.02 489.39 125.22 489.74 125.41 490.09 125.60 490.44 125.79 490.79 125.98 491.14 126.17 491.49 126.36 491.83 126.54 492.18 126.73 492.53 126.91 492.88 127.10 493.23 127.28 493.58 127.46 493.93 127.64 494.28 127.82 494.63 128.00 494.98 128.18 495.32 128.36 495.67 128.53 496.02 128.71 496.37 128.89 496.72 129.06 497.07 129.23 497.42 129.40 497.77 129.57 498.12 129.75 498.46 129.91 498.81 130.08 499.16 130.25 499.51 130.42 499.86 130.58 500.21 130.75 500.56 130.91 500.91 131.08 501.26 131.24 501.60 131.40 501.95 131.56 502.30 131.72 502.65 131.88 503.00 132.04 503.35 132.20 503.70 132.35 504.05 132.51 504.40 132.66 504.74 132.82 505.09 132.97 505.44 133.12 505.79 133.28 506.14 133.43 506.49 133.58 506.84 133.73 507.19 133.88 507.54 134.02 507.89 134.17 508.23 134.32 508.58 134.46 508.93 134.61 509.28 134.75 509.63 134.90 509.98 135.04 510.33 135.18 510.68 135.32 511.03 135.46 511.37 135.60 511.72 135.74 512.07 135.88 512.42 136.02 512.77 136.15 513.12 136.29 513.47 136.42 513.82 136.56 514.17 136.69 514.51 136.83 514.86 136.96 515.21 137.09 515.56 137.22 515.91 137.35 516.26 137.48 516.61 137.61 516.96 137.74 517.31 137.87 517.65 138.00 518.00 138.12 518.35 138.25 518.70 138.37 519.05 138.50 519.40 138.62 519.75 138.74 520.10 138.87 520.45 138.99 520.80 139.11 521.14 139.23 521.49 139.35 521.84 139.47 522.19 139.59 522.54 139.71 522.89 139.83 523.24 139.94 523.59 140.06 523.94 140.17 524.28 140.29 524.63 140.40 524.98 140.52 525.33 140.63 525.68 140.74 526.03 140.86 526.38 140.97 526.73 141.08 527.08 141.19 527.42 141.30 527.77 141.41 528.12 141.52 528.47 141.62 528.82 141.73 529.17 141.84 529.52 141.95 529.87 142.05 530.22 142.16 530.56 142.26 530.91 142.37 531.26 142.47 531.61 142.57 531.96 142.68 532.31 142.78 532.66 142.88 533.01 142.98 533.36 143.08 533.71 143.18 534.05 143.28 534.40 143.38 534.75 143.48 535.10 143.57 535.45 143.67 535.80 143.77 536.15 143.86 536.50 143.96 536.85 144.06 537.19 144.15 537.54 144.24 537.89 144.34 538.24 144.43 538.59 144.52 538.94 144.62 539.29 144.71 539.64 144.80 539.99 144.89 540.33 144.98 540.68 145.07 541.03 145.16 541.38 145.25 541.73 145.34 542.08 145.43 542.43 145.51 542.78 145.60 543.13 145.69 543.47 145.77 543.82 145.86 544.17 145.94 544.52 146.03 544.87 146.11 545.22 146.20 545.57 146.28 545.92 146.36 546.27 146.45 546.62 146.53 546.96 146.61 547.31 146.69 547.66 146.77 548.01 146.85 548.36 146.93 548.71 147.01 549.06 147.09 549.41 147.17 549.76 147.25 550.10 147.33 550.45 147.41 550.80 147.48 551.15 147.56 551.50 147.64 551.85 147.71 552.20 147.79 552.55 147.86 552.90 147.94 553.24 148.01 553.59 148.09 553.94 148.16 554.29 148.23 554.64 148.31 554.99 148.38 555.34 148.45 555.69 148.52 556.04 148.59 556.38 148.66 556.73 148.74 557.08 148.81 557.43 148.88 557.78 148.94 558.13 149.01 558.48 149.08 558.83 149.15 559.18 149.22 559.53 149.29 559.87 149.35 560.22 149.42 560.57 149.49 560.92 149.55 561.27 149.62 561.62 149.69 561.97 149.75 562.32 149.82 562.67 149.88 563.01 149.94 563.36 150.01 563.71 150.07 564.06 150.13 564.41 150.20 564.76 150.26 565.11 150.32 565.46 150.38 565.81 150.45 566.15 150.51 566.50 150.57 566.85 150.63 567.20 150.69 567.55 150.75 567.90 150.81 568.25 150.87 568.60 150.93 568.95 150.98 569.29 151.04 569.64 151.10 569.99 151.16 570.34 151.22 570.69 151.27 571.04 151.33 571.39 151.39 571.74 151.44 572.09 151.50 572.44 151.56 572.78 151.61 573.13 151.67 573.48 151.72 573.83 151.77 574.18 151.83 574.53 151.88 574.88 151.94 575.23 151.99 575.58 152.04 575.92 152.10 576.27 152.15 576.62 152.20 576.97 152.25 577.32 152.30 577.67 152.36 578.02 152.41 578.37 152.46 578.72 152.51 579.06 152.56 579.41 152.61 579.76 152.66 580.11 152.71 580.46 152.76 580.81 152.81 581.16 152.86 581.51 152.90 581.86 152.95 582.20 153.00 582.55 153.05 582.90 153.10 583.25 153.14 583.60 153.19 583.95 153.24 584.30 153.28 584.65 153.33 585.00 153.38 585.35 153.42 585.69 153.47 586.04 153.51 586.39 153.56 586.74 153.60 587.09 153.65 587.44 153.69 587.79 153.74 588.14 153.78 588.49 153.82 588.83 153.87 589.18 153.91 589.53 153.95 589.88 154.00 590.23 154.04 590.58 154.08 590.93 154.12 591.28 154.16 591.63 154.21 591.97 154.25 592.32 154.29 592.67 154.33 593.02 154.37 593.37 154.41 593.72 154.45 594.07 154.49 594.42 154.53 594.77 154.57 595.11 154.61 595.46 154.65 595.81 154.69 596.16 154.73 596.51 154.77 596.86 154.81 597.21 154.84 597.56 154.88 597.91 154.92 598.26 154.96 598.60 155.00 598.95 155.03 599.30 155.07 599.65 155.11 600.00 155.14 600.35 155.18 600.70 155.22 601.05 155.25 601.40 155.29 601.74 155.32 602.09 155.36 602.44 155.40 602.79 155.43 603.14 155.47 603.49 155.50 603.84 155.53 604.19 155.57 604.54 155.60 604.88 155.64 605.23 155.67 605.58 155.71 605.93 155.74 606.28 155.77 606.63 155.81 606.98 155.84 607.33 155.87 607.68 155.90 608.02 155.94 608.37 155.97 608.72 156.00 609.07 156.03 609.42 156.07 609.77 156.10 610.12 156.13 610.47 156.16 610.82 156.19 611.17 156.22 611.51 156.25 611.86 156.28 612.21 156.31 612.56 156.34 612.91 156.37 613.26 156.40 613.61 156.43 613.96 156.46 614.31 156.49 614.65 156.52 615.00 156.55 615.35 156.58 615.70 156.61 616.05 156.64 616.40 156.67 616.75 156.70 617.10 156.72 617.45 156.75 617.79 156.78 618.14 156.81 618.49 156.84 618.84 156.86 619.19 156.89 619.54 156.92 619.89 156.95 620.24 156.97 620.59 157.00 620.93 157.03 621.28 157.05 621.63 157.08 621.98 157.11 622.33 157.13 622.68 157.16 623.03 157.18 623.38 157.21 623.73 157.24 624.08 157.26 624.42 157.29 624.77 157.31 625.12 157.34 625.47 157.36 625.82 157.39 626.17 157.41 626.52 157.44 626.87 157.46 627.22 157.49 627.56 157.51 627.91 157.53 628.26 157.56 628.61 157.58 628.96 157.61 629.31 157.63 629.66 157.65 630.01 157.68 630.36 157.70 630.70 157.72 631.05 157.75 631.40 157.77 631.75 157.79 632.10 157.81 632.45 157.84 632.80 157.86 633.15 157.88 633.50 157.90 633.84 157.92 634.19 157.95 634.54 157.97 634.89 157.99 635.24 158.01 635.59 158.03 635.94 158.05 636.29 158.08 636.64 158.10 636.99 158.12 637.33 158.14 637.68 158.16 638.03 158.18 638.38 158.20 638.73 158.22 639.08 158.24 639.43 158.26 639.78 158.28 640.13 158.30 640.47 158.32 640.82 158.34 641.17 158.36 641.52 158.38 641.87 158.40 642.22 158.42 642.57 158.44 642.92 158.46 643.27 158.48 643.61 158.50 643.96 158.52 644.31 158.53 644.66 158.55 645.01 158.57 645.36 158.59 645.71 158.61 646.06 158.63 646.41 158.64 646.75 158.66 647.10 158.68 647.45 158.70 647.80 158.72 648.15 158.73 648.50 158.75 648.85 158.77 649.20 158.79 649.55 158.80 649.90 158.82 650.24 158.84 650.59 158.86 650.94 158.87 651.29 158.89 651.64 158.91 651.99 158.92 652.34 158.94 652.69 158.96 653.04 158.97 653.38 158.99 653.73 159.01 654.08 159.02 654.43 159.04 654.78 159.05 655.13 159.07 655.48 159.09 655.83 159.10 656.18 159.12 656.52 159.13 656.87 159.15 657.22 159.16 657.57 159.18 657.92 159.20 658.27 159.21 658.62 159.23 658.97 159.24 659.32 159.26 659.66 159.27 660.01 159.29 660.36 159.30 660.71 159.31 661.06 159.33 661.41 159.34 661.76 159.36 662.11 159.37 662.46 159.39 662.81 159.40 663.15 159.42 663.50 159.43 663.85 159.44 664.20 159.46 664.55 159.47 664.90 159.49 665.25 159.50 665.60 159.51 665.95 159.53 666.29 159.54 666.64 159.55 666.99 159.57 667.34 159.58 667.69 159.59 668.04 159.61 668.39 159.62 668.74 159.63 669.09 159.64 669.43 159.66 669.78 159.67 670.13 159.68 670.48 159.70 670.83 159.71 671.18 159.72 671.53 159.73 671.88 159.75 672.23 159.76 672.57 159.77 672.92 159.78 673.27 159.79 673.62 159.81 673.97 159.82 674.32 159.83 674.67 159.84 675.02 159.85 675.37 159.87 675.72 159.88 676.06 159.89 676.41 159.90 676.76 159.91 677.11 159.92 677.46 159.94 677.81 159.95 678.16 159.96 678.51 159.97 678.86 159.98 679.20 159.99 679.55 160.00 679.90 160.01 680.25 160.02 680.60 160.04" stroke="#000000" stroke-width="2.4"/><path d="M392.65 173.88h0M392.93 173.14h0M393.22 172.13h0M393.51 170.52h0M393.80 168.00h0M394.09 164.73h0M394.38 161.20h0M394.66 157.58h0M394.95 154.01h0M395.24 150.67h0M395.53 147.71h0M395.82 145.01h0M396.11 142.42h0M396.39 139.93h0M396.68 137.51h0M396.97 135.17h0M397.26 132.89h0M397.55 130.65h0M397.84 128.44h0M398.12 126.18h0M398.41 123.82h0M398.70 121.49h0M398.99 119.32h0M399.28 117.46h0M399.57 115.93h0M399.85 114.66h0M400.14 113.59h0M400.43 112.63h0M400.72 111.74h0M401.01 110.82h0M401.29 109.81h0M401.58 108.65h0M401.87 107.30h0" stroke="#000000" stroke-width="2.1"/><path d="M401.81 87.17L402.16 85.39 402.51 83.80 402.86 82.36 403.21 80.99 403.56 79.66 403.91 78.31 404.26 76.97 404.61 75.70 404.95 74.47 405.30 73.28 405.65 72.11 406.00 70.95 406.35 69.80 406.70 68.65 407.05 67.53 407.40 66.44 407.75 65.37 408.09 64.22 408.44 63.03 408.79 61.89 409.14 60.85 409.49 59.99 409.84 59.32 410.19 58.71 410.54 58.13 410.89 57.59 411.23 57.09 411.58 56.63 411.93 56.19 412.28 55.80 412.63 55.43 412.98 55.14 413.33 54.93 413.68 54.77 414.03 54.67 414.37 54.60 414.72 54.56 415.07 54.53 415.42 54.51 415.77 54.47 416.12 54.41 416.47 54.33 416.82 54.26 417.17 54.20 417.52 54.15 417.86 54.13 418.21 54.12 418.56 54.13 418.91 54.16 419.26 54.21 419.61 54.27 419.96 54.36 420.31 54.48 420.66 54.62 421.00 54.80 421.35 55.01 421.70 55.23 422.05 55.48 422.40 55.75 422.75 56.02 423.10 56.31 423.45 56.60 423.80 56.90 424.14 57.19 424.49 57.48 424.84 57.76 425.19 58.03 425.54 58.31 425.89 58.60 426.24 58.90 426.59 59.20 426.94 59.51 427.28 59.83 427.63 60.15 427.98 60.48 428.33 60.82 428.68 61.16 429.03 61.51 429.38 61.86 429.73 62.22 430.08 62.58 430.43 62.95 430.77 63.32 431.12 63.69 431.47 64.07 431.82 64.45 432.17 64.84 432.52 65.23 432.87 65.62 433.22 66.00 433.57 66.39 433.91 66.78 434.26 67.16 434.61 67.55 434.96 67.93 435.31 68.32 435.66 68.71 436.01 69.10 436.36 69.49 436.71 69.88 437.05 70.27 437.40 70.66 437.75 71.06 438.10 71.46 438.45 71.86 438.80 72.26 439.15 72.67 439.50 73.08 439.85 73.49 440.19 73.91 440.54 74.33 440.89 74.76 441.24 75.19 441.59 75.62 441.94 76.06 442.29 76.49 442.64 76.93 442.99 77.36 443.34 77.79 443.68 78.23 444.03 78.66 444.38 79.10 444.73 79.53 445.08 79.97 445.43 80.40 445.78 80.83 446.13 81.27 446.48 81.70 446.82 82.13 447.17 82.56 447.52 83.00 447.87 83.43 448.22 83.86 448.57 84.28 448.92 84.71 449.27 85.14 449.62 85.57 449.96 85.99 450.31 86.42 450.66 86.84 451.01 87.26 451.36 87.69 451.71 88.11 452.06 88.53 452.41 88.95 452.76 89.36 453.10 89.78 453.45 90.20 453.80 90.61 454.15 91.02 454.50 91.44 454.85 91.85 455.20 92.26 455.55 92.67 455.90 93.07 456.25 93.48 456.59 93.88 456.94 94.29 457.29 94.69 457.64 95.09 457.99 95.49 458.34 95.89 458.69 96.28 459.04 96.68 459.39 97.07 459.73 97.47 460.08 97.86 460.43 98.25 460.78 98.64 461.13 99.02 461.48 99.41 461.83 99.79 462.18 100.17 462.53 100.56 462.87 100.93 463.22 101.31 463.57 101.69 463.92 102.06 464.27 102.44 464.62 102.81 464.97 103.18 465.32 103.55 465.67 103.92 466.01 104.28 466.36 104.65 466.71 105.01 467.06 105.37 467.41 105.73 467.76 106.09 468.11 106.45 468.46 106.81 468.81 107.16 469.16 107.51 469.50 107.86 469.85 108.21 470.20 108.56 470.55 108.91 470.90 109.25 471.25 109.60 471.60 109.94 471.95 110.28 472.30 110.62 472.64 110.96 472.99 111.29 473.34 111.63 473.69 111.96 474.04 112.29 474.39 112.62 474.74 112.95 475.09 113.28 475.44 113.61 475.78 113.93 476.13 114.25 476.48 114.58 476.83 114.90 477.18 115.21 477.53 115.53 477.88 115.85 478.23 116.16 478.58 116.47 478.92 116.79 479.27 117.09 479.62 117.40 479.97 117.71 480.32 118.02 480.67 118.32 481.02 118.62 481.37 118.92 481.72 119.22 482.07 119.52 482.41 119.82 482.76 120.12 483.11 120.41 483.46 120.70 483.81 121.00 484.16 121.29 484.51 121.57 484.86 121.86 485.21 122.15 485.55 122.43 485.90 122.72 486.25 123.00 486.60 123.28 486.95 123.56 487.30 123.84 487.65 124.11 488.00 124.39 488.35 124.66 488.69 124.94 489.04 125.21 489.39 125.48 489.74 125.75 490.09 126.01 490.44 126.28 490.79 126.55 491.14 126.81 491.49 127.07 491.83 127.33 492.18 127.59 492.53 127.85 492.88 128.11 493.23 128.37 493.58 128.62 493.93 128.88 494.28 129.13 494.63 129.38 494.98 129.63 495.32 129.88 495.67 130.13 496.02 130.37 496.37 130.62 496.72 130.86 497.07 131.11 497.42 131.35 497.77 131.59 498.12 131.83 498.46 132.07 498.81 132.30 499.16 132.54 499.51 132.77 499.86 133.01 500.21 133.24 500.56 133.47 500.91 133.70 501.26 133.93 501.60 134.16 501.95 134.39 502.30 134.61 502.65 134.84 503.00 135.06 503.35 135.28 503.70 135.50 504.05 135.73 504.40 135.94 504.74 136.16 505.09 136.38 505.44 136.60 505.79 136.81 506.14 137.03 506.49 137.24 506.84 137.45 507.19 137.66 507.54 137.87 507.89 138.08 508.23 138.29 508.58 138.49 508.93 138.70 509.28 138.90 509.63 139.11 509.98 139.31 510.33 139.51 510.68 139.71 511.03 139.91 511.37 140.11 511.72 140.31 512.07 140.51 512.42 140.70 512.77 140.90 513.12 141.09 513.47 141.28 513.82 141.48 514.17 141.67 514.51 141.86 514.86 142.05 515.21 142.24 515.56 142.42 515.91 142.61 516.26 142.79 516.61 142.98 516.96 143.16 517.31 143.35 517.65 143.53 518.00 143.71 518.35 143.89 518.70 144.07 519.05 144.25 519.40 144.42 519.75 144.60 520.10 144.78 520.45 144.95 520.80 145.12 521.14 145.30 521.49 145.47 521.84 145.64 522.19 145.81 522.54 145.98 522.89 146.15 523.24 146.32 523.59 146.49 523.94 146.65 524.28 146.82 524.63 146.98 524.98 147.15 525.33 147.31 525.68 147.47 526.03 147.63 526.38 147.79 526.73 147.95 527.08 148.11 527.42 148.27 527.77 148.43 528.12 148.59 528.47 148.74 528.82 148.90 529.17 149.05 529.52 149.21 529.87 149.36 530.22 149.51 530.56 149.66 530.91 149.81 531.26 149.96 531.61 150.11 531.96 150.26 532.31 150.41 532.66 150.56 533.01 150.70 533.36 150.85 533.71 150.99 534.05 151.14 534.40 151.28 534.75 151.42 535.10 151.57 535.45 151.71 535.80 151.85 536.15 151.99 536.50 152.13 536.85 152.26 537.19 152.40 537.54 152.54 537.89 152.68 538.24 152.81 538.59 152.95 538.94 153.08 539.29 153.22 539.64 153.35 539.99 153.48 540.33 153.61 540.68 153.74 541.03 153.88 541.38 154.00 541.73 154.13 542.08 154.26 542.43 154.39 542.78 154.52 543.13 154.64 543.47 154.77 543.82 154.90 544.17 155.02 544.52 155.15 544.87 155.27 545.22 155.39 545.57 155.51 545.92 155.64 546.27 155.76 546.62 155.88 546.96 156.00 547.31 156.12 547.66 156.24 548.01 156.35 548.36 156.47 548.71 156.59 549.06 156.71 549.41 156.82 549.76 156.94 550.10 157.05 550.45 157.17 550.80 157.28 551.15 157.39 551.50 157.51 551.85 157.62 552.20 157.73 552.55 157.84 552.90 157.95 553.24 158.06 553.59 158.17 553.94 158.28 554.29 158.39 554.64 158.49 554.99 158.60 555.34 158.71 555.69 158.81 556.04 158.92 556.38 159.02 556.73 159.13 557.08 159.23 557.43 159.34 557.78 159.44 558.13 159.54 558.48 159.64 558.83 159.74 559.18 159.84 559.53 159.95 559.87 160.05 560.22 160.14 560.57 160.24 560.92 160.34 561.27 160.44 561.62 160.54 561.97 160.63 562.32 160.73 562.67 160.83 563.01 160.92 563.36 161.02 563.71 161.11 564.06 161.21 564.41 161.30 564.76 161.39 565.11 161.49 565.46 161.58 565.81 161.67 566.15 161.76 566.50 161.85 566.85 161.94 567.20 162.03 567.55 162.12 567.90 162.21 568.25 162.30 568.60 162.39 568.95 162.48 569.29 162.56 569.64 162.65 569.99 162.74 570.34 162.82 570.69 162.91 571.04 162.99 571.39 163.08 571.74 163.16 572.09 163.25 572.44 163.33 572.78 163.41 573.13 163.50 573.48 163.58 573.83 163.66 574.18 163.74 574.53 163.82 574.88 163.90 575.23 163.98 575.58 164.06 575.92 164.14 576.27 164.22 576.62 164.30 576.97 164.38 577.32 164.46 577.67 164.54 578.02 164.61 578.37 164.69 578.72 164.77 579.06 164.84 579.41 164.92 579.76 164.99 580.11 165.07 580.46 165.14 580.81 165.22 581.16 165.29 581.51 165.36 581.86 165.44 582.20 165.51 582.55 165.58 582.90 165.65 583.25 165.73 583.60 165.80 583.95 165.87 584.30 165.94 584.65 166.01 585.00 166.08 585.35 166.15 585.69 166.22 586.04 166.29 586.39 166.35 586.74 166.42 587.09 166.49 587.44 166.56 587.79 166.62 588.14 166.69 588.49 166.76 588.83 166.82 589.18 166.89 589.53 166.96 589.88 167.02 590.23 167.09 590.58 167.15 590.93 167.21 591.28 167.28 591.63 167.34 591.97 167.41 592.32 167.47 592.67 167.53 593.02 167.59 593.37 167.66 593.72 167.72 594.07 167.78 594.42 167.84 594.77 167.90 595.11 167.96 595.46 168.02 595.81 168.08 596.16 168.14 596.51 168.20 596.86 168.26 597.21 168.32 597.56 168.38 597.91 168.43 598.26 168.49 598.60 168.55 598.95 168.61 599.30 168.66 599.65 168.72 600.00 168.78 600.35 168.83 600.70 168.89 601.05 168.95 601.40 169.00 601.74 169.06 602.09 169.11 602.44 169.17 602.79 169.22 603.14 169.27 603.49 169.33 603.84 169.38 604.19 169.43 604.54 169.49 604.88 169.54 605.23 169.59 605.58 169.64 605.93 169.70 606.28 169.75 606.63 169.80 606.98 169.85 607.33 169.90 607.68 169.95 608.02 170.00 608.37 170.05 608.72 170.10 609.07 170.15 609.42 170.20 609.77 170.25 610.12 170.30 610.47 170.35 610.82 170.40 611.17 170.44 611.51 170.49 611.86 170.54 612.21 170.59 612.56 170.63 612.91 170.68 613.26 170.73 613.61 170.78 613.96 170.82 614.31 170.87 614.65 170.91 615.00 170.96 615.35 171.00 615.70 171.05 616.05 171.09 616.40 171.14 616.75 171.18 617.10 171.23 617.45 171.27 617.79 171.32 618.14 171.36 618.49 171.40 618.84 171.45 619.19 171.49 619.54 171.53 619.89 171.57 620.24 171.62 620.59 171.66 620.93 171.70 621.28 171.74 621.63 171.78 621.98 171.83 622.33 171.87 622.68 171.91 623.03 171.95 623.38 171.99 623.73 172.03 624.08 172.07 624.42 172.11 624.77 172.15 625.12 172.19 625.47 172.23 625.82 172.27 626.17 172.31 626.52 172.34 626.87 172.38 627.22 172.42 627.56 172.46 627.91 172.50 628.26 172.54 628.61 172.57 628.96 172.61 629.31 172.65 629.66 172.68 630.01 172.72 630.36 172.76 630.70 172.79 631.05 172.83 631.40 172.87 631.75 172.90 632.10 172.94 632.45 172.97 632.80 173.01 633.15 173.04 633.50 173.08 633.84 173.11 634.19 173.15 634.54 173.18 634.89 173.22 635.24 173.25 635.59 173.29 635.94 173.32 636.29 173.35 636.64 173.39 636.99 173.42 637.33 173.45 637.68 173.49 638.03 173.52 638.38 173.55 638.73 173.59 639.08 173.62 639.43 173.65 639.78 173.68 640.13 173.71 640.47 173.75 640.82 173.78 641.17 173.81 641.52 173.84 641.87 173.87 642.22 173.90 642.57 173.93 642.92 173.96 643.27 173.99 643.61 174.02 643.96 174.06 644.31 174.09 644.66 174.12 645.01 174.14 645.36 174.17 645.71 174.20 646.06 174.23 646.41 174.26 646.75 174.29 647.10 174.32 647.45 174.35 647.80 174.38 648.15 174.41 648.50 174.43 648.85 174.46 649.20 174.49 649.55 174.52 649.90 174.55 650.24 174.57 650.59 174.60 650.94 174.63 651.29 174.66 651.64 174.68 651.99 174.71 652.34 174.74 652.69 174.76 653.04 174.79 653.38 174.82 653.73 174.84 654.08 174.87 654.43 174.90 654.78 174.92 655.13 174.95 655.48 174.97 655.83 175.00 656.18 175.02 656.52 175.05 656.87 175.07 657.22 175.10 657.57 175.12 657.92 175.15 658.27 175.17 658.62 175.20 658.97 175.22 659.32 175.25 659.66 175.27 660.01 175.30 660.36 175.32 660.71 175.34 661.06 175.37 661.41 175.39 661.76 175.41 662.11 175.44 662.46 175.46 662.81 175.48 663.15 175.51 663.50 175.53 663.85 175.55 664.20 175.57 664.55 175.60 664.90 175.62 665.25 175.64 665.60 175.66 665.95 175.69 666.29 175.71 666.64 175.73 666.99 175.75 667.34 175.77 667.69 175.80 668.04 175.82 668.39 175.84 668.74 175.86 669.09 175.88 669.43 175.90 669.78 175.92 670.13 175.94 670.48 175.96 670.83 175.98 671.18 176.01 671.53 176.03 671.88 176.05 672.23 176.07 672.57 176.09 672.92 176.11 673.27 176.13 673.62 176.15 673.97 176.17 674.32 176.19 674.67 176.20 675.02 176.22 675.37 176.24 675.72 176.26 676.06 176.28 676.41 176.30 676.76 176.32 677.11 176.34 677.46 176.36 677.81 176.38 678.16 176.40 678.51 176.41 678.86 176.43 679.20 176.45 679.55 176.47 679.90 176.49 680.25 176.50 680.60 176.52" stroke="#0000ff" stroke-width="2.4"/><path d="M392.65 173.88h0M392.93 173.19h0M393.22 171.75h0M393.51 169.10h0M393.80 164.94h0M394.09 159.87h0M394.38 154.62h0M394.66 149.91h0M394.95 146.28h0M395.24 143.09h0M395.53 140.11h0M395.82 137.30h0M396.11 134.57h0M396.39 131.87h0M396.68 129.12h0M396.97 126.15h0M397.26 122.71h0M397.55 119.39h0M397.84 116.78h0M398.12 114.80h0M398.41 113.20h0M398.70 111.75h0M398.99 110.21h0M399.28 108.34h0M399.57 105.94h0M399.85 103.13h0M400.14 100.25h0M400.43 97.60h0M400.72 95.12h0M401.01 92.70h0M401.29 90.45h0M401.58 88.49h0M401.87 86.86h0" stroke="#0000ff" stroke-width="2.1"/><path d="M401.81 72.70L402.16 70.26 402.51 66.61 402.86 64.47 403.21 62.69 403.56 61.03 403.91 59.44 404.26 57.85 404.61 56.30 404.95 54.82 405.30 53.40 405.65 52.04 406.00 50.72 406.35 49.27 406.70 47.85 407.05 46.65 407.40 45.56 407.75 44.53 408.09 43.57 408.44 42.67 408.79 41.83 409.14 41.04 409.49 40.30 409.84 39.60 410.19 38.96 410.54 38.36 410.89 37.80 411.23 37.29 411.58 36.82 411.93 36.39 412.28 36.00 412.63 35.65 412.98 35.35 413.33 35.11 413.68 34.90 414.03 34.73 414.37 34.60 414.72 34.49 415.07 34.41 415.42 34.36 415.77 34.32 416.12 34.29 416.47 34.27 416.82 34.27 417.17 34.29 417.52 34.33 417.86 34.39 418.21 34.46 418.56 34.56 418.91 34.67 419.26 34.81 419.61 34.96 419.96 35.12 420.31 35.31 420.66 35.51 421.00 35.72 421.35 35.95 421.70 36.19 422.05 36.44 422.40 36.71 422.75 36.98 423.10 37.27 423.45 37.57 423.80 37.88 424.14 38.20 424.49 38.54 424.84 38.88 425.19 39.24 425.54 39.61 425.89 39.99 426.24 40.38 426.59 40.77 426.94 41.18 427.28 41.59 427.63 42.00 427.98 42.43 428.33 42.87 428.68 43.31 429.03 43.76 429.38 44.22 429.73 44.69 430.08 45.16 430.43 45.65 430.77 46.14 431.12 46.64 431.47 47.15 431.82 47.66 432.17 48.18 432.52 48.70 432.87 49.23 433.22 49.76 433.57 50.30 433.91 50.83 434.26 51.38 434.61 51.92 434.96 52.47 435.31 53.02 435.66 53.57 436.01 54.13 436.36 54.68 436.71 55.24 437.05 55.80 437.40 56.36 437.75 56.92 438.10 57.49 438.45 58.05 438.80 58.61 439.15 59.17 439.50 59.74 439.85 60.30 440.19 60.86 440.54 61.42 440.89 61.98 441.24 62.53 441.59 63.09 441.94 63.65 442.29 64.20 442.64 64.76 442.99 65.32 443.34 65.87 443.68 66.43 444.03 66.98 444.38 67.54 444.73 68.09 445.08 68.65 445.43 69.20 445.78 69.75 446.13 70.31 446.48 70.86 446.82 71.41 447.17 71.95 447.52 72.50 447.87 73.05 448.22 73.60 448.57 74.14 448.92 74.68 449.27 75.23 449.62 75.77 449.96 76.31 450.31 76.85 450.66 77.38 451.01 77.92 451.36 78.46 451.71 78.99 452.06 79.52 452.41 80.05 452.76 80.58 453.10 81.11 453.45 81.63 453.80 82.16 454.15 82.68 454.50 83.20 454.85 83.72 455.20 84.24 455.55 84.75 455.90 85.27 456.25 85.78 456.59 86.29 456.94 86.80 457.29 87.31 457.64 87.82 457.99 88.32 458.34 88.82 458.69 89.32 459.04 89.82 459.39 90.32 459.73 90.81 460.08 91.31 460.43 91.80 460.78 92.29 461.13 92.78 461.48 93.26 461.83 93.75 462.18 94.23 462.53 94.71 462.87 95.19 463.22 95.67 463.57 96.14 463.92 96.61 464.27 97.08 464.62 97.55 464.97 98.02 465.32 98.49 465.67 98.95 466.01 99.41 466.36 99.87 466.71 100.33 467.06 100.78 467.41 101.24 467.76 101.69 468.11 102.14 468.46 102.59 468.81 103.04 469.16 103.48 469.50 103.92 469.85 104.36 470.20 104.80 470.55 105.24 470.90 105.67 471.25 106.11 471.60 106.54 471.95 106.97 472.30 107.40 472.64 107.82 472.99 108.25 473.34 108.67 473.69 109.09 474.04 109.51 474.39 109.92 474.74 110.34 475.09 110.75 475.44 111.16 475.78 111.57 476.13 111.98 476.48 112.38 476.83 112.79 477.18 113.19 477.53 113.59 477.88 113.99 478.23 114.38 478.58 114.78 478.92 115.17 479.27 115.56 479.62 115.95 479.97 116.34 480.32 116.72 480.67 117.11 481.02 117.49 481.37 117.87 481.72 118.25 482.07 118.63 482.41 119.00 482.76 119.38 483.11 119.75 483.46 120.12 483.81 120.49 484.16 120.85 484.51 121.22 484.86 121.58 485.21 121.94 485.55 122.30 485.90 122.66 486.25 123.02 486.60 123.37 486.95 123.73 487.30 124.08 487.65 124.43 488.00 124.78 488.35 125.12 488.69 125.47 489.04 125.81 489.39 126.15 489.74 126.49 490.09 126.83 490.44 127.17 490.79 127.50 491.14 127.84 491.49 128.17 491.83 128.50 492.18 128.83 492.53 129.16 492.88 129.49 493.23 129.81 493.58 130.13 493.93 130.45 494.28 130.77 494.63 131.09 494.98 131.41 495.32 131.73 495.67 132.04 496.02 132.35 496.37 132.66 496.72 132.97 497.07 133.28 497.42 133.59 497.77 133.89 498.12 134.20 498.46 134.50 498.81 134.80 499.16 135.10 499.51 135.40 499.86 135.70 500.21 135.99 500.56 136.28 500.91 136.58 501.26 136.87 501.60 137.16 501.95 137.45 502.30 137.73 502.65 138.02 503.00 138.30 503.35 138.59 503.70 138.87 504.05 139.15 504.40 139.43 504.74 139.70 505.09 139.98 505.44 140.26 505.79 140.53 506.14 140.80 506.49 141.07 506.84 141.34 507.19 141.61 507.54 141.88 507.89 142.14 508.23 142.41 508.58 142.67 508.93 142.93 509.28 143.19 509.63 143.45 509.98 143.71 510.33 143.97 510.68 144.23 511.03 144.48 511.37 144.73 511.72 144.99 512.07 145.24 512.42 145.49 512.77 145.74 513.12 145.98 513.47 146.23 513.82 146.47 514.17 146.72 514.51 146.96 514.86 147.20 515.21 147.44 515.56 147.68 515.91 147.92 516.26 148.16 516.61 148.39 516.96 148.63 517.31 148.86 517.65 149.09 518.00 149.33 518.35 149.56 518.70 149.79 519.05 150.01 519.40 150.24 519.75 150.47 520.10 150.69 520.45 150.91 520.80 151.14 521.14 151.36 521.49 151.58 521.84 151.80 522.19 152.02 522.54 152.23 522.89 152.45 523.24 152.67 523.59 152.88 523.94 153.09 524.28 153.31 524.63 153.52 524.98 153.73 525.33 153.94 525.68 154.14 526.03 154.35 526.38 154.56 526.73 154.76 527.08 154.97 527.42 155.17 527.77 155.37 528.12 155.57 528.47 155.77 528.82 155.97 529.17 156.17 529.52 156.37 529.87 156.57 530.22 156.76 530.56 156.96 530.91 157.15 531.26 157.34 531.61 157.53 531.96 157.73 532.31 157.92 532.66 158.10 533.01 158.29 533.36 158.48 533.71 158.67 534.05 158.85 534.40 159.04 534.75 159.22 535.10 159.40 535.45 159.58 535.80 159.77 536.15 159.95 536.50 160.13 536.85 160.30 537.19 160.48 537.54 160.66 537.89 160.83 538.24 161.01 538.59 161.18 538.94 161.36 539.29 161.53 539.64 161.70 539.99 161.87 540.33 162.04 540.68 162.21 541.03 162.38 541.38 162.55 541.73 162.71 542.08 162.88 542.43 163.05 542.78 163.21 543.13 163.37 543.47 163.54 543.82 163.70 544.17 163.86 544.52 164.02 544.87 164.18 545.22 164.34 545.57 164.50 545.92 164.66 546.27 164.81 546.62 164.97 546.96 165.12 547.31 165.28 547.66 165.43 548.01 165.58 548.36 165.74 548.71 165.89 549.06 166.04 549.41 166.19 549.76 166.34 550.10 166.49 550.45 166.64 550.80 166.78 551.15 166.93 551.50 167.07 551.85 167.22 552.20 167.36 552.55 167.51 552.90 167.65 553.24 167.79 553.59 167.94 553.94 168.08 554.29 168.22 554.64 168.36 554.99 168.49 555.34 168.63 555.69 168.77 556.04 168.91 556.38 169.04 556.73 169.18 557.08 169.31 557.43 169.45 557.78 169.58 558.13 169.72 558.48 169.85 558.83 169.98 559.18 170.11 559.53 170.24 559.87 170.37 560.22 170.50 560.57 170.63 560.92 170.76 561.27 170.89 561.62 171.01 561.97 171.14 562.32 171.26 562.67 171.39 563.01 171.51 563.36 171.64 563.71 171.76 564.06 171.88 564.41 172.00 564.76 172.13 565.11 172.25 565.46 172.37 565.81 172.49 566.15 172.61 566.50 172.72 566.85 172.84 567.20 172.96 567.55 173.08 567.90 173.19 568.25 173.31 568.60 173.42 568.95 173.54 569.29 173.65 569.64 173.77 569.99 173.88 570.34 173.99 570.69 174.10 571.04 174.21 571.39 174.33 571.74 174.44 572.09 174.55 572.44 174.65 572.78 174.76 573.13 174.87 573.48 174.98 573.83 175.09 574.18 175.19 574.53 175.30 574.88 175.41 575.23 175.51 575.58 175.61 575.92 175.72 576.27 175.82 576.62 175.93 576.97 176.03 577.32 176.13 577.67 176.23 578.02 176.33 578.37 176.43 578.72 176.53 579.06 176.63 579.41 176.73 579.76 176.83 580.11 176.93 580.46 177.03 580.81 177.12 581.16 177.22 581.51 177.32 581.86 177.41 582.20 177.51 582.55 177.60 582.90 177.70 583.25 177.79 583.60 177.89 583.95 177.98 584.30 178.07 584.65 178.16 585.00 178.26 585.35 178.35 585.69 178.44 586.04 178.53 586.39 178.62 586.74 178.71 587.09 178.80 587.44 178.89 587.79 178.98 588.14 179.06 588.49 179.15 588.83 179.24 589.18 179.32 589.53 179.41 589.88 179.50 590.23 179.58 590.58 179.67 590.93 179.75 591.28 179.84 591.63 179.92 591.97 180.00 592.32 180.09 592.67 180.17 593.02 180.25 593.37 180.33 593.72 180.41 594.07 180.50 594.42 180.58 594.77 180.66 595.11 180.74 595.46 180.82 595.81 180.90 596.16 180.97 596.51 181.05 596.86 181.13 597.21 181.21 597.56 181.28 597.91 181.36 598.26 181.44 598.60 181.51 598.95 181.59 599.30 181.67 599.65 181.74 600.00 181.82 600.35 181.89 600.70 181.96 601.05 182.04 601.40 182.11 601.74 182.18 602.09 182.26 602.44 182.33 602.79 182.40 603.14 182.47 603.49 182.54 603.84 182.61 604.19 182.68 604.54 182.75 604.88 182.82 605.23 182.89 605.58 182.96 605.93 183.03 606.28 183.10 606.63 183.17 606.98 183.24 607.33 183.30 607.68 183.37 608.02 183.44 608.37 183.50 608.72 183.57 609.07 183.64 609.42 183.70 609.77 183.77 610.12 183.83 610.47 183.90 610.82 183.96 611.17 184.02 611.51 184.09 611.86 184.15 612.21 184.21 612.56 184.28 612.91 184.34 613.26 184.40 613.61 184.46 613.96 184.53 614.31 184.59 614.65 184.65 615.00 184.71 615.35 184.77 615.70 184.83 616.05 184.89 616.40 184.95 616.75 185.01 617.10 185.07 617.45 185.13 617.79 185.18 618.14 185.24 618.49 185.30 618.84 185.36 619.19 185.41 619.54 185.47 619.89 185.53 620.24 185.58 620.59 185.64 620.93 185.70 621.28 185.75 621.63 185.81 621.98 185.86 622.33 185.92 622.68 185.97 623.03 186.03 623.38 186.08 623.73 186.13 624.08 186.19 624.42 186.24 624.77 186.29 625.12 186.35 625.47 186.40 625.82 186.45 626.17 186.50 626.52 186.56 626.87 186.61 627.22 186.66 627.56 186.71 627.91 186.76 628.26 186.81 628.61 186.86 628.96 186.91 629.31 186.96 629.66 187.01 630.01 187.06 630.36 187.11 630.70 187.16 631.05 187.21 631.40 187.26 631.75 187.30 632.10 187.35 632.45 187.40 632.80 187.45 633.15 187.49 633.50 187.54 633.84 187.59 634.19 187.63 634.54 187.68 634.89 187.73 635.24 187.77 635.59 187.82 635.94 187.86 636.29 187.91 636.64 187.95 636.99 188.00 637.33 188.04 637.68 188.09 638.03 188.13 638.38 188.18 638.73 188.22 639.08 188.26 639.43 188.31 639.78 188.35 640.13 188.39 640.47 188.44 640.82 188.48 641.17 188.52 641.52 188.56 641.87 188.60 642.22 188.65 642.57 188.69 642.92 188.73 643.27 188.77 643.61 188.81 643.96 188.85 644.31 188.89 644.66 188.93 645.01 188.97 645.36 189.01 645.71 189.05 646.06 189.09 646.41 189.13 646.75 189.17 647.10 189.21 647.45 189.25 647.80 189.29 648.15 189.32 648.50 189.36 648.85 189.40 649.20 189.44 649.55 189.48 649.90 189.51 650.24 189.55 650.59 189.59 650.94 189.63 651.29 189.66 651.64 189.70 651.99 189.74 652.34 189.77 652.69 189.81 653.04 189.84 653.38 189.88 653.73 189.92 654.08 189.95 654.43 189.99 654.78 190.02 655.13 190.06 655.48 190.09 655.83 190.12 656.18 190.16 656.52 190.19 656.87 190.23 657.22 190.26 657.57 190.30 657.92 190.33 658.27 190.36 658.62 190.40 658.97 190.43 659.32 190.46 659.66 190.49 660.01 190.53 660.36 190.56 660.71 190.59 661.06 190.62 661.41 190.66 661.76 190.69 662.11 190.72 662.46 190.75 662.81 190.78 663.15 190.81 663.50 190.84 663.85 190.88 664.20 190.91 664.55 190.94 664.90 190.97 665.25 191.00 665.60 191.03 665.95 191.06 666.29 191.09 666.64 191.12 666.99 191.15 667.34 191.18 667.69 191.21 668.04 191.24 668.39 191.26 668.74 191.29 669.09 191.32 669.43 191.35 669.78 191.38 670.13 191.41 670.48 191.44 670.83 191.46 671.18 191.49 671.53 191.52 671.88 191.55 672.23 191.57 672.57 191.60 672.92 191.63 673.27 191.66 673.62 191.68 673.97 191.71 674.32 191.74 674.67 191.76 675.02 191.79 675.37 191.82 675.72 191.84 676.06 191.87 676.41 191.90 676.76 191.92 677.11 191.95 677.46 191.97 677.81 192.00 678.16 192.02 678.51 192.05 678.86 192.07 679.20 192.10 679.55 192.12 679.90 192.15 680.25 192.17 680.60 192.20" stroke="#00ff00" stroke-width="2.4"/><path d="M392.65 173.88h0M392.93 173.10h0M393.22 170.50h0M393.51 165.70h0M393.80 157.86h0M394.09 150.15h0M394.38 145.41h0M394.66 141.37h0M394.95 137.55h0M395.24 133.87h0M395.53 130.22h0M395.82 126.52h0M396.11 122.88h0M396.39 119.35h0M396.68 115.97h0M396.97 112.79h0M397.26 109.73h0M397.55 106.70h0M397.84 103.21h0M398.12 99.04h0M398.41 95.01h0M398.70 91.01h0M398.99 88.02h0M399.28 85.98h0M399.57 84.51h0M399.85 83.39h0M400.14 82.43h0M400.43 81.41h0M400.72 80.13h0M401.01 78.38h0M401.29 76.34h0M401.58 74.31h0M401.87 72.29h0" stroke="#00ff00" stroke-width="2.1"/><path d="M392.9 179.3h0" stroke="#ff0000" stroke-width="2.1"/><path d="M392.9 181.3h0" stroke="#000000" stroke-width="2.1"/><path d="M392.9 183.4h0" stroke="#0000ff" stroke-width="2.1"/><path d="M392.9 185.8h0" stroke="#00ff00" stroke-width="2.1"/></g><rect x="614.6" y="16.6" width="59" height="40.4" fill="#fff" stroke="#8a8a8a" stroke-width="1"/><path d="M630.60 22.60h0" stroke="#ff0000" stroke-width="1.8" stroke-linecap="round"/><text x="645.40" y="25.60" class="lg"><tspan dx="0.6" font-family="Liberation Serif" font-style="italic" font-size="7.4px">η</tspan><tspan dx="0.1">=0.99</tspan></text><path d="M630.60 32.10h0" stroke="#000000" stroke-width="1.8" stroke-linecap="round"/><text x="645.40" y="35.10" class="lg"><tspan dx="0.6" font-family="Liberation Serif" font-style="italic" font-size="7.4px">η</tspan><tspan dx="0.1">=0.98</tspan></text><path d="M630.60 41.60h0" stroke="#0000ff" stroke-width="1.8" stroke-linecap="round"/><text x="645.40" y="44.60" class="lg"><tspan dx="0.6" font-family="Liberation Serif" font-style="italic" font-size="7.4px">η</tspan><tspan dx="0.1">=0.97</tspan></text><path d="M630.60 51.10h0" stroke="#00ff00" stroke-width="1.8" stroke-linecap="round"/><text x="645.40" y="54.10" class="lg"><tspan dx="0.6" font-family="Liberation Serif" font-style="italic" font-size="7.4px">η</tspan><tspan dx="0.1">=0.96</tspan></text><text x="141.1" y="262" class="cap" textLength="20.1" lengthAdjust="spacingAndGlyphs">(a)</text><text x="166.9" y="262" class="cap" textLength="39.2" lengthAdjust="spacingAndGlyphs">ABC</text><text x="496.4" y="262" class="cap" textLength="21.5" lengthAdjust="spacingAndGlyphs">(b)</text><text x="523.1" y="262" class="cap" textLength="55.4" lengthAdjust="spacingAndGlyphs">MABC</text></svg></body></html>
